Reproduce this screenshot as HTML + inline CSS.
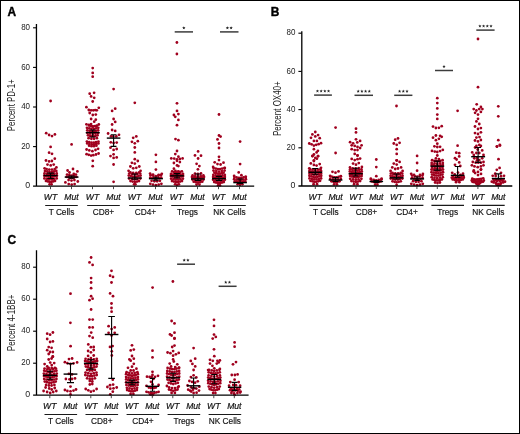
<!DOCTYPE html>
<html><head><meta charset="utf-8"><style>html,body{margin:0;padding:0;background:#fff;width:520px;height:434px;overflow:hidden}</style></head>
<body><svg width="520" height="434" viewBox="0 0 520 434" style="display:block;will-change:transform"><rect x="0" y="0" width="520" height="434" fill="#fff"/><rect x="0.5" y="0.5" width="519" height="433" fill="none" stroke="#000" stroke-width="1"/><text x="7.6" y="16.0" font-family='"Liberation Sans", sans-serif' font-weight="bold" font-size="11.9" fill="#000" stroke="#000" stroke-width="0.4">A</text><circle cx="50.6" cy="101.0" r="1.38" fill="#a0001e"/><circle cx="46.2" cy="133.2" r="1.38" fill="#a0001e"/><circle cx="49.1" cy="135.0" r="1.38" fill="#a0001e"/><circle cx="52.0" cy="136.1" r="1.38" fill="#a0001e"/><circle cx="54.9" cy="134.4" r="1.38" fill="#a0001e"/><circle cx="50.6" cy="146.9" r="1.38" fill="#a0001e"/><circle cx="49.1" cy="152.7" r="1.38" fill="#a0001e"/><circle cx="52.0" cy="153.8" r="1.38" fill="#a0001e"/><circle cx="54.8" cy="158.7" r="1.38" fill="#a0001e"/><circle cx="46.0" cy="160.5" r="1.38" fill="#a0001e"/><circle cx="49.1" cy="161.4" r="1.38" fill="#a0001e"/><circle cx="51.9" cy="161.0" r="1.38" fill="#a0001e"/><circle cx="47.5" cy="164.6" r="1.38" fill="#a0001e"/><circle cx="50.7" cy="165.4" r="1.38" fill="#a0001e"/><circle cx="53.7" cy="164.6" r="1.38" fill="#a0001e"/><circle cx="44.6" cy="168.3" r="1.38" fill="#a0001e"/><circle cx="56.4" cy="167.4" r="1.38" fill="#a0001e"/><circle cx="49.6" cy="184.3" r="1.38" fill="#a0001e"/><circle cx="51.6" cy="184.3" r="1.38" fill="#a0001e"/><circle cx="46.0" cy="180.9" r="1.38" fill="#a0001e"/><circle cx="47.8" cy="181.4" r="1.38" fill="#a0001e"/><circle cx="49.6" cy="181.9" r="1.38" fill="#a0001e"/><circle cx="51.4" cy="181.9" r="1.38" fill="#a0001e"/><circle cx="53.2" cy="181.4" r="1.38" fill="#a0001e"/><circle cx="55.0" cy="180.9" r="1.38" fill="#a0001e"/><circle cx="44.4" cy="178.4" r="1.38" fill="#a0001e"/><circle cx="46.8" cy="178.9" r="1.38" fill="#a0001e"/><circle cx="49.3" cy="179.4" r="1.38" fill="#a0001e"/><circle cx="51.7" cy="179.4" r="1.38" fill="#a0001e"/><circle cx="54.2" cy="178.9" r="1.38" fill="#a0001e"/><circle cx="56.7" cy="178.4" r="1.38" fill="#a0001e"/><circle cx="44.3" cy="175.7" r="1.38" fill="#a0001e"/><circle cx="46.4" cy="176.2" r="1.38" fill="#a0001e"/><circle cx="48.5" cy="176.7" r="1.38" fill="#a0001e"/><circle cx="50.6" cy="177.2" r="1.38" fill="#a0001e"/><circle cx="52.7" cy="176.7" r="1.38" fill="#a0001e"/><circle cx="54.8" cy="176.2" r="1.38" fill="#a0001e"/><circle cx="56.9" cy="175.7" r="1.38" fill="#a0001e"/><circle cx="44.5" cy="173.5" r="1.38" fill="#a0001e"/><circle cx="47.0" cy="174.0" r="1.38" fill="#a0001e"/><circle cx="49.4" cy="174.5" r="1.38" fill="#a0001e"/><circle cx="51.8" cy="174.5" r="1.38" fill="#a0001e"/><circle cx="54.2" cy="174.0" r="1.38" fill="#a0001e"/><circle cx="56.7" cy="173.5" r="1.38" fill="#a0001e"/><circle cx="45.0" cy="171.0" r="1.38" fill="#a0001e"/><circle cx="47.3" cy="171.5" r="1.38" fill="#a0001e"/><circle cx="49.5" cy="172.0" r="1.38" fill="#a0001e"/><circle cx="51.8" cy="172.0" r="1.38" fill="#a0001e"/><circle cx="54.0" cy="171.5" r="1.38" fill="#a0001e"/><circle cx="56.3" cy="171.0" r="1.38" fill="#a0001e"/><circle cx="46.6" cy="169.1" r="1.38" fill="#a0001e"/><circle cx="49.3" cy="169.6" r="1.38" fill="#a0001e"/><circle cx="52.0" cy="169.6" r="1.38" fill="#a0001e"/><circle cx="54.7" cy="169.1" r="1.38" fill="#a0001e"/><circle cx="71.6" cy="144.4" r="1.38" fill="#a0001e"/><circle cx="73.0" cy="169.0" r="1.38" fill="#a0001e"/><circle cx="67.6" cy="170.5" r="1.38" fill="#a0001e"/><circle cx="77.4" cy="171.4" r="1.38" fill="#a0001e"/><circle cx="69.5" cy="172.5" r="1.38" fill="#a0001e"/><circle cx="73.8" cy="174.0" r="1.38" fill="#a0001e"/><circle cx="65.4" cy="182.4" r="1.38" fill="#a0001e"/><circle cx="77.8" cy="181.5" r="1.38" fill="#a0001e"/><circle cx="68.6" cy="180.1" r="1.38" fill="#a0001e"/><circle cx="71.5" cy="180.6" r="1.38" fill="#a0001e"/><circle cx="74.4" cy="180.1" r="1.38" fill="#a0001e"/><circle cx="66.6" cy="176.8" r="1.38" fill="#a0001e"/><circle cx="68.6" cy="177.3" r="1.38" fill="#a0001e"/><circle cx="70.5" cy="177.8" r="1.38" fill="#a0001e"/><circle cx="72.5" cy="177.8" r="1.38" fill="#a0001e"/><circle cx="74.4" cy="177.3" r="1.38" fill="#a0001e"/><circle cx="76.4" cy="176.8" r="1.38" fill="#a0001e"/><circle cx="67.1" cy="174.6" r="1.38" fill="#a0001e"/><circle cx="69.3" cy="175.1" r="1.38" fill="#a0001e"/><circle cx="71.5" cy="175.6" r="1.38" fill="#a0001e"/><circle cx="73.7" cy="175.1" r="1.38" fill="#a0001e"/><circle cx="75.9" cy="174.6" r="1.38" fill="#a0001e"/><circle cx="68.7" cy="184.1" r="1.38" fill="#a0001e"/><circle cx="71.7" cy="184.6" r="1.38" fill="#a0001e"/><circle cx="74.6" cy="184.1" r="1.38" fill="#a0001e"/><circle cx="92.7" cy="68.1" r="1.38" fill="#a0001e"/><circle cx="92.7" cy="72.9" r="1.38" fill="#a0001e"/><circle cx="92.7" cy="76.7" r="1.38" fill="#a0001e"/><circle cx="89.7" cy="93.7" r="1.38" fill="#a0001e"/><circle cx="94.1" cy="92.8" r="1.38" fill="#a0001e"/><circle cx="91.1" cy="96.4" r="1.38" fill="#a0001e"/><circle cx="94.2" cy="97.8" r="1.38" fill="#a0001e"/><circle cx="92.7" cy="101.5" r="1.38" fill="#a0001e"/><circle cx="86.4" cy="107.2" r="1.38" fill="#a0001e"/><circle cx="98.8" cy="107.8" r="1.38" fill="#a0001e"/><circle cx="88.8" cy="110.0" r="1.38" fill="#a0001e"/><circle cx="91.1" cy="110.3" r="1.38" fill="#a0001e"/><circle cx="93.3" cy="110.3" r="1.38" fill="#a0001e"/><circle cx="95.2" cy="110.1" r="1.38" fill="#a0001e"/><circle cx="96.8" cy="110.3" r="1.38" fill="#a0001e"/><circle cx="89.7" cy="113.0" r="1.38" fill="#a0001e"/><circle cx="92.8" cy="115.0" r="1.38" fill="#a0001e"/><circle cx="95.8" cy="114.6" r="1.38" fill="#a0001e"/><circle cx="91.1" cy="119.0" r="1.38" fill="#a0001e"/><circle cx="95.8" cy="119.7" r="1.38" fill="#a0001e"/><circle cx="94.2" cy="121.7" r="1.38" fill="#a0001e"/><circle cx="86.4" cy="124.3" r="1.38" fill="#a0001e"/><circle cx="88.8" cy="124.8" r="1.38" fill="#a0001e"/><circle cx="91.1" cy="124.1" r="1.38" fill="#a0001e"/><circle cx="98.8" cy="124.5" r="1.38" fill="#a0001e"/><circle cx="96.4" cy="126.1" r="1.38" fill="#a0001e"/><circle cx="92.8" cy="126.5" r="1.38" fill="#a0001e"/><circle cx="86.6" cy="149.5" r="1.38" fill="#a0001e"/><circle cx="89.3" cy="150.4" r="1.38" fill="#a0001e"/><circle cx="92.4" cy="151.2" r="1.38" fill="#a0001e"/><circle cx="95.5" cy="150.0" r="1.38" fill="#a0001e"/><circle cx="98.1" cy="148.8" r="1.38" fill="#a0001e"/><circle cx="86.6" cy="154.2" r="1.38" fill="#a0001e"/><circle cx="88.8" cy="154.8" r="1.38" fill="#a0001e"/><circle cx="91.1" cy="155.6" r="1.38" fill="#a0001e"/><circle cx="93.3" cy="155.2" r="1.38" fill="#a0001e"/><circle cx="96.0" cy="154.5" r="1.38" fill="#a0001e"/><circle cx="98.6" cy="153.5" r="1.38" fill="#a0001e"/><circle cx="92.8" cy="160.8" r="1.38" fill="#a0001e"/><circle cx="92.7" cy="166.2" r="1.38" fill="#a0001e"/><circle cx="88.6" cy="138.2" r="1.38" fill="#a0001e"/><circle cx="91.4" cy="138.8" r="1.38" fill="#a0001e"/><circle cx="94.1" cy="138.8" r="1.38" fill="#a0001e"/><circle cx="96.9" cy="138.2" r="1.38" fill="#a0001e"/><circle cx="88.0" cy="135.3" r="1.38" fill="#a0001e"/><circle cx="89.9" cy="135.8" r="1.38" fill="#a0001e"/><circle cx="91.8" cy="136.3" r="1.38" fill="#a0001e"/><circle cx="93.7" cy="136.3" r="1.38" fill="#a0001e"/><circle cx="95.6" cy="135.8" r="1.38" fill="#a0001e"/><circle cx="97.5" cy="135.3" r="1.38" fill="#a0001e"/><circle cx="87.4" cy="133.0" r="1.38" fill="#a0001e"/><circle cx="90.0" cy="133.5" r="1.38" fill="#a0001e"/><circle cx="92.7" cy="134.0" r="1.38" fill="#a0001e"/><circle cx="95.4" cy="133.5" r="1.38" fill="#a0001e"/><circle cx="98.1" cy="133.0" r="1.38" fill="#a0001e"/><circle cx="87.3" cy="130.3" r="1.38" fill="#a0001e"/><circle cx="89.5" cy="130.8" r="1.38" fill="#a0001e"/><circle cx="91.6" cy="131.3" r="1.38" fill="#a0001e"/><circle cx="93.8" cy="131.3" r="1.38" fill="#a0001e"/><circle cx="95.9" cy="130.8" r="1.38" fill="#a0001e"/><circle cx="98.1" cy="130.3" r="1.38" fill="#a0001e"/><circle cx="87.0" cy="127.8" r="1.38" fill="#a0001e"/><circle cx="89.3" cy="128.3" r="1.38" fill="#a0001e"/><circle cx="91.5" cy="128.8" r="1.38" fill="#a0001e"/><circle cx="93.8" cy="128.8" r="1.38" fill="#a0001e"/><circle cx="96.1" cy="128.3" r="1.38" fill="#a0001e"/><circle cx="98.3" cy="127.8" r="1.38" fill="#a0001e"/><circle cx="89.1" cy="125.6" r="1.38" fill="#a0001e"/><circle cx="91.0" cy="126.1" r="1.38" fill="#a0001e"/><circle cx="93.0" cy="126.6" r="1.38" fill="#a0001e"/><circle cx="95.0" cy="126.1" r="1.38" fill="#a0001e"/><circle cx="96.9" cy="125.6" r="1.38" fill="#a0001e"/><circle cx="89.1" cy="145.7" r="1.38" fill="#a0001e"/><circle cx="91.5" cy="146.2" r="1.38" fill="#a0001e"/><circle cx="94.0" cy="146.2" r="1.38" fill="#a0001e"/><circle cx="96.4" cy="145.7" r="1.38" fill="#a0001e"/><circle cx="87.2" cy="143.4" r="1.38" fill="#a0001e"/><circle cx="89.4" cy="143.9" r="1.38" fill="#a0001e"/><circle cx="91.7" cy="144.4" r="1.38" fill="#a0001e"/><circle cx="93.9" cy="144.4" r="1.38" fill="#a0001e"/><circle cx="96.2" cy="143.9" r="1.38" fill="#a0001e"/><circle cx="98.4" cy="143.4" r="1.38" fill="#a0001e"/><circle cx="86.9" cy="141.6" r="1.38" fill="#a0001e"/><circle cx="89.2" cy="142.1" r="1.38" fill="#a0001e"/><circle cx="91.5" cy="142.6" r="1.38" fill="#a0001e"/><circle cx="93.8" cy="142.6" r="1.38" fill="#a0001e"/><circle cx="96.1" cy="142.1" r="1.38" fill="#a0001e"/><circle cx="98.4" cy="141.6" r="1.38" fill="#a0001e"/><circle cx="113.6" cy="89.1" r="1.38" fill="#a0001e"/><circle cx="115.2" cy="108.7" r="1.38" fill="#a0001e"/><circle cx="112.1" cy="110.9" r="1.38" fill="#a0001e"/><circle cx="113.6" cy="119.0" r="1.38" fill="#a0001e"/><circle cx="115.2" cy="121.9" r="1.38" fill="#a0001e"/><circle cx="112.1" cy="124.5" r="1.38" fill="#a0001e"/><circle cx="112.1" cy="130.0" r="1.38" fill="#a0001e"/><circle cx="115.2" cy="130.9" r="1.38" fill="#a0001e"/><circle cx="108.1" cy="133.5" r="1.38" fill="#a0001e"/><circle cx="119.0" cy="134.8" r="1.38" fill="#a0001e"/><circle cx="111.0" cy="136.4" r="1.38" fill="#a0001e"/><circle cx="113.2" cy="136.4" r="1.38" fill="#a0001e"/><circle cx="116.3" cy="136.4" r="1.38" fill="#a0001e"/><circle cx="110.8" cy="142.3" r="1.38" fill="#a0001e"/><circle cx="113.6" cy="143.0" r="1.38" fill="#a0001e"/><circle cx="116.7" cy="142.6" r="1.38" fill="#a0001e"/><circle cx="110.5" cy="147.7" r="1.38" fill="#a0001e"/><circle cx="113.6" cy="149.9" r="1.38" fill="#a0001e"/><circle cx="116.7" cy="149.0" r="1.38" fill="#a0001e"/><circle cx="113.6" cy="154.3" r="1.38" fill="#a0001e"/><circle cx="110.5" cy="156.1" r="1.38" fill="#a0001e"/><circle cx="113.6" cy="157.9" r="1.38" fill="#a0001e"/><circle cx="116.7" cy="157.4" r="1.38" fill="#a0001e"/><circle cx="113.6" cy="164.5" r="1.38" fill="#a0001e"/><circle cx="113.6" cy="181.8" r="1.38" fill="#a0001e"/><circle cx="134.8" cy="102.8" r="1.38" fill="#a0001e"/><circle cx="136.3" cy="136.4" r="1.38" fill="#a0001e"/><circle cx="133.2" cy="137.8" r="1.38" fill="#a0001e"/><circle cx="131.9" cy="141.8" r="1.38" fill="#a0001e"/><circle cx="134.8" cy="143.3" r="1.38" fill="#a0001e"/><circle cx="137.8" cy="141.2" r="1.38" fill="#a0001e"/><circle cx="134.8" cy="147.5" r="1.38" fill="#a0001e"/><circle cx="134.8" cy="152.4" r="1.38" fill="#a0001e"/><circle cx="134.8" cy="159.2" r="1.38" fill="#a0001e"/><circle cx="137.8" cy="161.0" r="1.38" fill="#a0001e"/><circle cx="131.9" cy="162.8" r="1.38" fill="#a0001e"/><circle cx="134.8" cy="163.6" r="1.38" fill="#a0001e"/><circle cx="130.4" cy="166.5" r="1.38" fill="#a0001e"/><circle cx="133.2" cy="168.3" r="1.38" fill="#a0001e"/><circle cx="136.3" cy="167.8" r="1.38" fill="#a0001e"/><circle cx="139.3" cy="166.5" r="1.38" fill="#a0001e"/><circle cx="128.6" cy="170.8" r="1.38" fill="#a0001e"/><circle cx="140.6" cy="170.8" r="1.38" fill="#a0001e"/><circle cx="130.4" cy="172.4" r="1.38" fill="#a0001e"/><circle cx="133.2" cy="173.0" r="1.38" fill="#a0001e"/><circle cx="136.3" cy="173.0" r="1.38" fill="#a0001e"/><circle cx="139.1" cy="172.4" r="1.38" fill="#a0001e"/><circle cx="134.1" cy="184.3" r="1.38" fill="#a0001e"/><circle cx="135.4" cy="184.3" r="1.38" fill="#a0001e"/><circle cx="130.5" cy="181.1" r="1.38" fill="#a0001e"/><circle cx="132.6" cy="181.6" r="1.38" fill="#a0001e"/><circle cx="134.8" cy="182.1" r="1.38" fill="#a0001e"/><circle cx="136.9" cy="181.6" r="1.38" fill="#a0001e"/><circle cx="139.0" cy="181.1" r="1.38" fill="#a0001e"/><circle cx="129.1" cy="178.6" r="1.38" fill="#a0001e"/><circle cx="131.9" cy="179.1" r="1.38" fill="#a0001e"/><circle cx="134.7" cy="179.6" r="1.38" fill="#a0001e"/><circle cx="137.5" cy="179.1" r="1.38" fill="#a0001e"/><circle cx="140.3" cy="178.6" r="1.38" fill="#a0001e"/><circle cx="128.8" cy="175.6" r="1.38" fill="#a0001e"/><circle cx="130.8" cy="176.1" r="1.38" fill="#a0001e"/><circle cx="132.7" cy="176.6" r="1.38" fill="#a0001e"/><circle cx="134.7" cy="177.1" r="1.38" fill="#a0001e"/><circle cx="136.7" cy="176.6" r="1.38" fill="#a0001e"/><circle cx="138.6" cy="176.1" r="1.38" fill="#a0001e"/><circle cx="140.6" cy="175.6" r="1.38" fill="#a0001e"/><circle cx="129.2" cy="173.6" r="1.38" fill="#a0001e"/><circle cx="131.9" cy="174.1" r="1.38" fill="#a0001e"/><circle cx="134.7" cy="174.6" r="1.38" fill="#a0001e"/><circle cx="137.4" cy="174.1" r="1.38" fill="#a0001e"/><circle cx="140.2" cy="173.6" r="1.38" fill="#a0001e"/><circle cx="155.9" cy="154.8" r="1.38" fill="#a0001e"/><circle cx="155.9" cy="161.9" r="1.38" fill="#a0001e"/><circle cx="155.9" cy="169.6" r="1.38" fill="#a0001e"/><circle cx="150.1" cy="173.6" r="1.38" fill="#a0001e"/><circle cx="153.0" cy="174.6" r="1.38" fill="#a0001e"/><circle cx="158.7" cy="174.9" r="1.38" fill="#a0001e"/><circle cx="161.8" cy="173.8" r="1.38" fill="#a0001e"/><circle cx="150.3" cy="183.8" r="1.38" fill="#a0001e"/><circle cx="153.0" cy="184.6" r="1.38" fill="#a0001e"/><circle cx="155.9" cy="185.2" r="1.38" fill="#a0001e"/><circle cx="158.7" cy="184.6" r="1.38" fill="#a0001e"/><circle cx="161.4" cy="183.8" r="1.38" fill="#a0001e"/><circle cx="151.6" cy="180.8" r="1.38" fill="#a0001e"/><circle cx="154.4" cy="181.3" r="1.38" fill="#a0001e"/><circle cx="157.1" cy="181.3" r="1.38" fill="#a0001e"/><circle cx="159.9" cy="180.8" r="1.38" fill="#a0001e"/><circle cx="150.3" cy="177.6" r="1.38" fill="#a0001e"/><circle cx="152.5" cy="178.1" r="1.38" fill="#a0001e"/><circle cx="154.7" cy="178.6" r="1.38" fill="#a0001e"/><circle cx="156.8" cy="178.6" r="1.38" fill="#a0001e"/><circle cx="159.0" cy="178.1" r="1.38" fill="#a0001e"/><circle cx="161.2" cy="177.6" r="1.38" fill="#a0001e"/><circle cx="150.6" cy="175.2" r="1.38" fill="#a0001e"/><circle cx="153.2" cy="175.7" r="1.38" fill="#a0001e"/><circle cx="155.8" cy="176.2" r="1.38" fill="#a0001e"/><circle cx="158.3" cy="175.7" r="1.38" fill="#a0001e"/><circle cx="160.9" cy="175.2" r="1.38" fill="#a0001e"/><circle cx="176.9" cy="42.5" r="1.38" fill="#a0001e"/><circle cx="176.9" cy="54.0" r="1.38" fill="#a0001e"/><circle cx="177.0" cy="103.3" r="1.38" fill="#a0001e"/><circle cx="177.0" cy="110.9" r="1.38" fill="#a0001e"/><circle cx="178.4" cy="114.1" r="1.38" fill="#a0001e"/><circle cx="173.9" cy="115.0" r="1.38" fill="#a0001e"/><circle cx="175.3" cy="116.8" r="1.38" fill="#a0001e"/><circle cx="178.4" cy="119.9" r="1.38" fill="#a0001e"/><circle cx="177.0" cy="125.2" r="1.38" fill="#a0001e"/><circle cx="175.5" cy="139.1" r="1.38" fill="#a0001e"/><circle cx="178.4" cy="140.2" r="1.38" fill="#a0001e"/><circle cx="177.0" cy="151.0" r="1.38" fill="#a0001e"/><circle cx="175.3" cy="154.1" r="1.38" fill="#a0001e"/><circle cx="178.4" cy="156.7" r="1.38" fill="#a0001e"/><circle cx="171.3" cy="158.4" r="1.38" fill="#a0001e"/><circle cx="174.2" cy="158.6" r="1.38" fill="#a0001e"/><circle cx="177.0" cy="159.3" r="1.38" fill="#a0001e"/><circle cx="179.9" cy="159.0" r="1.38" fill="#a0001e"/><circle cx="182.6" cy="158.4" r="1.38" fill="#a0001e"/><circle cx="177.0" cy="160.8" r="1.38" fill="#a0001e"/><circle cx="179.9" cy="162.1" r="1.38" fill="#a0001e"/><circle cx="173.9" cy="163.0" r="1.38" fill="#a0001e"/><circle cx="177.0" cy="165.4" r="1.38" fill="#a0001e"/><circle cx="178.4" cy="166.1" r="1.38" fill="#a0001e"/><circle cx="173.9" cy="168.7" r="1.38" fill="#a0001e"/><circle cx="175.5" cy="171.0" r="1.38" fill="#a0001e"/><circle cx="178.2" cy="171.4" r="1.38" fill="#a0001e"/><circle cx="175.1" cy="184.3" r="1.38" fill="#a0001e"/><circle cx="177.0" cy="184.8" r="1.38" fill="#a0001e"/><circle cx="178.9" cy="184.3" r="1.38" fill="#a0001e"/><circle cx="172.0" cy="181.1" r="1.38" fill="#a0001e"/><circle cx="174.0" cy="181.6" r="1.38" fill="#a0001e"/><circle cx="176.0" cy="182.1" r="1.38" fill="#a0001e"/><circle cx="178.0" cy="182.1" r="1.38" fill="#a0001e"/><circle cx="180.0" cy="181.6" r="1.38" fill="#a0001e"/><circle cx="182.0" cy="181.1" r="1.38" fill="#a0001e"/><circle cx="171.1" cy="178.7" r="1.38" fill="#a0001e"/><circle cx="173.5" cy="179.2" r="1.38" fill="#a0001e"/><circle cx="175.8" cy="179.7" r="1.38" fill="#a0001e"/><circle cx="178.2" cy="179.7" r="1.38" fill="#a0001e"/><circle cx="180.5" cy="179.2" r="1.38" fill="#a0001e"/><circle cx="182.9" cy="178.7" r="1.38" fill="#a0001e"/><circle cx="170.9" cy="176.0" r="1.38" fill="#a0001e"/><circle cx="172.9" cy="176.5" r="1.38" fill="#a0001e"/><circle cx="175.0" cy="177.0" r="1.38" fill="#a0001e"/><circle cx="177.0" cy="177.5" r="1.38" fill="#a0001e"/><circle cx="179.0" cy="177.0" r="1.38" fill="#a0001e"/><circle cx="181.1" cy="176.5" r="1.38" fill="#a0001e"/><circle cx="183.1" cy="176.0" r="1.38" fill="#a0001e"/><circle cx="171.0" cy="173.9" r="1.38" fill="#a0001e"/><circle cx="173.4" cy="174.4" r="1.38" fill="#a0001e"/><circle cx="175.8" cy="174.9" r="1.38" fill="#a0001e"/><circle cx="178.2" cy="174.9" r="1.38" fill="#a0001e"/><circle cx="180.6" cy="174.4" r="1.38" fill="#a0001e"/><circle cx="183.0" cy="173.9" r="1.38" fill="#a0001e"/><circle cx="172.1" cy="171.4" r="1.38" fill="#a0001e"/><circle cx="174.1" cy="171.9" r="1.38" fill="#a0001e"/><circle cx="176.0" cy="172.4" r="1.38" fill="#a0001e"/><circle cx="178.0" cy="172.4" r="1.38" fill="#a0001e"/><circle cx="179.9" cy="171.9" r="1.38" fill="#a0001e"/><circle cx="181.9" cy="171.4" r="1.38" fill="#a0001e"/><circle cx="198.1" cy="151.4" r="1.38" fill="#a0001e"/><circle cx="195.0" cy="155.4" r="1.38" fill="#a0001e"/><circle cx="201.0" cy="155.7" r="1.38" fill="#a0001e"/><circle cx="198.1" cy="158.5" r="1.38" fill="#a0001e"/><circle cx="196.6" cy="163.8" r="1.38" fill="#a0001e"/><circle cx="199.4" cy="166.1" r="1.38" fill="#a0001e"/><circle cx="197.9" cy="169.3" r="1.38" fill="#a0001e"/><circle cx="195.0" cy="173.6" r="1.38" fill="#a0001e"/><circle cx="197.9" cy="174.0" r="1.38" fill="#a0001e"/><circle cx="201.0" cy="173.4" r="1.38" fill="#a0001e"/><circle cx="196.6" cy="184.6" r="1.38" fill="#a0001e"/><circle cx="199.4" cy="184.6" r="1.38" fill="#a0001e"/><circle cx="193.7" cy="181.7" r="1.38" fill="#a0001e"/><circle cx="195.8" cy="182.2" r="1.38" fill="#a0001e"/><circle cx="198.0" cy="182.7" r="1.38" fill="#a0001e"/><circle cx="200.2" cy="182.2" r="1.38" fill="#a0001e"/><circle cx="202.3" cy="181.7" r="1.38" fill="#a0001e"/><circle cx="192.5" cy="179.6" r="1.38" fill="#a0001e"/><circle cx="195.2" cy="180.1" r="1.38" fill="#a0001e"/><circle cx="198.0" cy="180.6" r="1.38" fill="#a0001e"/><circle cx="200.8" cy="180.1" r="1.38" fill="#a0001e"/><circle cx="203.5" cy="179.6" r="1.38" fill="#a0001e"/><circle cx="192.0" cy="177.0" r="1.38" fill="#a0001e"/><circle cx="194.0" cy="177.5" r="1.38" fill="#a0001e"/><circle cx="196.0" cy="178.0" r="1.38" fill="#a0001e"/><circle cx="198.0" cy="178.5" r="1.38" fill="#a0001e"/><circle cx="200.0" cy="178.0" r="1.38" fill="#a0001e"/><circle cx="202.0" cy="177.5" r="1.38" fill="#a0001e"/><circle cx="204.0" cy="177.0" r="1.38" fill="#a0001e"/><circle cx="192.6" cy="175.4" r="1.38" fill="#a0001e"/><circle cx="195.3" cy="175.9" r="1.38" fill="#a0001e"/><circle cx="198.0" cy="176.4" r="1.38" fill="#a0001e"/><circle cx="200.7" cy="175.9" r="1.38" fill="#a0001e"/><circle cx="203.4" cy="175.4" r="1.38" fill="#a0001e"/><circle cx="219.0" cy="114.5" r="1.38" fill="#a0001e"/><circle cx="219.0" cy="135.5" r="1.38" fill="#a0001e"/><circle cx="220.6" cy="136.6" r="1.38" fill="#a0001e"/><circle cx="217.5" cy="139.4" r="1.38" fill="#a0001e"/><circle cx="219.0" cy="143.5" r="1.38" fill="#a0001e"/><circle cx="219.0" cy="148.0" r="1.38" fill="#a0001e"/><circle cx="219.0" cy="156.8" r="1.38" fill="#a0001e"/><circle cx="219.0" cy="160.1" r="1.38" fill="#a0001e"/><circle cx="214.7" cy="162.3" r="1.38" fill="#a0001e"/><circle cx="217.5" cy="164.1" r="1.38" fill="#a0001e"/><circle cx="220.6" cy="164.5" r="1.38" fill="#a0001e"/><circle cx="223.5" cy="162.7" r="1.38" fill="#a0001e"/><circle cx="213.1" cy="167.0" r="1.38" fill="#a0001e"/><circle cx="224.8" cy="167.9" r="1.38" fill="#a0001e"/><circle cx="218.1" cy="185.3" r="1.38" fill="#a0001e"/><circle cx="219.9" cy="185.3" r="1.38" fill="#a0001e"/><circle cx="214.2" cy="182.0" r="1.38" fill="#a0001e"/><circle cx="216.1" cy="182.5" r="1.38" fill="#a0001e"/><circle cx="218.0" cy="183.0" r="1.38" fill="#a0001e"/><circle cx="220.0" cy="183.0" r="1.38" fill="#a0001e"/><circle cx="221.9" cy="182.5" r="1.38" fill="#a0001e"/><circle cx="223.8" cy="182.0" r="1.38" fill="#a0001e"/><circle cx="213.1" cy="179.7" r="1.38" fill="#a0001e"/><circle cx="215.5" cy="180.2" r="1.38" fill="#a0001e"/><circle cx="217.8" cy="180.7" r="1.38" fill="#a0001e"/><circle cx="220.2" cy="180.7" r="1.38" fill="#a0001e"/><circle cx="222.5" cy="180.2" r="1.38" fill="#a0001e"/><circle cx="224.9" cy="179.7" r="1.38" fill="#a0001e"/><circle cx="213.1" cy="177.1" r="1.38" fill="#a0001e"/><circle cx="215.1" cy="177.6" r="1.38" fill="#a0001e"/><circle cx="217.0" cy="178.1" r="1.38" fill="#a0001e"/><circle cx="219.0" cy="178.6" r="1.38" fill="#a0001e"/><circle cx="221.0" cy="178.1" r="1.38" fill="#a0001e"/><circle cx="222.9" cy="177.6" r="1.38" fill="#a0001e"/><circle cx="224.9" cy="177.1" r="1.38" fill="#a0001e"/><circle cx="213.3" cy="175.0" r="1.38" fill="#a0001e"/><circle cx="215.6" cy="175.5" r="1.38" fill="#a0001e"/><circle cx="217.9" cy="176.0" r="1.38" fill="#a0001e"/><circle cx="220.2" cy="176.0" r="1.38" fill="#a0001e"/><circle cx="222.5" cy="175.5" r="1.38" fill="#a0001e"/><circle cx="224.8" cy="175.0" r="1.38" fill="#a0001e"/><circle cx="214.4" cy="172.7" r="1.38" fill="#a0001e"/><circle cx="216.2" cy="173.2" r="1.38" fill="#a0001e"/><circle cx="218.1" cy="173.7" r="1.38" fill="#a0001e"/><circle cx="219.9" cy="173.7" r="1.38" fill="#a0001e"/><circle cx="221.8" cy="173.2" r="1.38" fill="#a0001e"/><circle cx="223.6" cy="172.7" r="1.38" fill="#a0001e"/><circle cx="213.5" cy="170.6" r="1.38" fill="#a0001e"/><circle cx="216.3" cy="171.1" r="1.38" fill="#a0001e"/><circle cx="219.0" cy="171.6" r="1.38" fill="#a0001e"/><circle cx="221.8" cy="171.1" r="1.38" fill="#a0001e"/><circle cx="224.6" cy="170.6" r="1.38" fill="#a0001e"/><circle cx="213.6" cy="168.1" r="1.38" fill="#a0001e"/><circle cx="215.8" cy="168.6" r="1.38" fill="#a0001e"/><circle cx="217.9" cy="169.1" r="1.38" fill="#a0001e"/><circle cx="220.1" cy="169.1" r="1.38" fill="#a0001e"/><circle cx="222.2" cy="168.6" r="1.38" fill="#a0001e"/><circle cx="224.4" cy="168.1" r="1.38" fill="#a0001e"/><circle cx="240.1" cy="141.6" r="1.38" fill="#a0001e"/><circle cx="240.1" cy="164.1" r="1.38" fill="#a0001e"/><circle cx="238.7" cy="172.4" r="1.38" fill="#a0001e"/><circle cx="241.4" cy="175.2" r="1.38" fill="#a0001e"/><circle cx="234.1" cy="175.9" r="1.38" fill="#a0001e"/><circle cx="245.8" cy="176.8" r="1.38" fill="#a0001e"/><circle cx="237.6" cy="184.3" r="1.38" fill="#a0001e"/><circle cx="240.0" cy="184.8" r="1.38" fill="#a0001e"/><circle cx="242.4" cy="184.3" r="1.38" fill="#a0001e"/><circle cx="234.8" cy="181.3" r="1.38" fill="#a0001e"/><circle cx="236.9" cy="181.8" r="1.38" fill="#a0001e"/><circle cx="239.0" cy="182.3" r="1.38" fill="#a0001e"/><circle cx="241.0" cy="182.3" r="1.38" fill="#a0001e"/><circle cx="243.1" cy="181.8" r="1.38" fill="#a0001e"/><circle cx="245.2" cy="181.3" r="1.38" fill="#a0001e"/><circle cx="234.1" cy="179.2" r="1.38" fill="#a0001e"/><circle cx="236.5" cy="179.7" r="1.38" fill="#a0001e"/><circle cx="238.8" cy="180.2" r="1.38" fill="#a0001e"/><circle cx="241.2" cy="180.2" r="1.38" fill="#a0001e"/><circle cx="243.5" cy="179.7" r="1.38" fill="#a0001e"/><circle cx="245.9" cy="179.2" r="1.38" fill="#a0001e"/><circle cx="234.4" cy="176.9" r="1.38" fill="#a0001e"/><circle cx="236.6" cy="177.4" r="1.38" fill="#a0001e"/><circle cx="238.9" cy="177.9" r="1.38" fill="#a0001e"/><circle cx="241.1" cy="177.9" r="1.38" fill="#a0001e"/><circle cx="243.4" cy="177.4" r="1.38" fill="#a0001e"/><circle cx="245.6" cy="176.9" r="1.38" fill="#a0001e"/><path d="M36.45 24.0 V186.2 M33.050000000000004 186.2 H254.2" stroke="#000" stroke-width="1.3" fill="none"/><path d="M33.050000000000004 146.6 H36.45" stroke="#000" stroke-width="1.1"/><path d="M33.050000000000004 107.0 H36.45" stroke="#000" stroke-width="1.1"/><path d="M33.050000000000004 67.4 H36.45" stroke="#000" stroke-width="1.1"/><path d="M33.050000000000004 27.8 H36.45" stroke="#000" stroke-width="1.1"/><text x="30.050000000000004" y="188.4" text-anchor="end" font-family='"Liberation Sans", sans-serif' font-size="8.8" fill="#222">0</text><text x="30.050000000000004" y="148.8" text-anchor="end" font-family='"Liberation Sans", sans-serif' font-size="8.8" fill="#222" textLength="8.9" lengthAdjust="spacingAndGlyphs">20</text><text x="30.050000000000004" y="109.2" text-anchor="end" font-family='"Liberation Sans", sans-serif' font-size="8.8" fill="#222" textLength="8.9" lengthAdjust="spacingAndGlyphs">40</text><text x="30.050000000000004" y="69.6" text-anchor="end" font-family='"Liberation Sans", sans-serif' font-size="8.8" fill="#222" textLength="8.9" lengthAdjust="spacingAndGlyphs">60</text><text x="30.050000000000004" y="30.0" text-anchor="end" font-family='"Liberation Sans", sans-serif' font-size="8.8" fill="#222" textLength="8.9" lengthAdjust="spacingAndGlyphs">80</text><path d="M50.5 186.2 V189.2" stroke="#333" stroke-width="0.9"/><text x="50.5" y="199.6" text-anchor="middle" font-family='"Liberation Sans", sans-serif' font-style="italic" font-size="8.6" fill="#111" stroke="#111" stroke-width="0.2">WT</text><path d="M71.5 186.2 V189.2" stroke="#333" stroke-width="0.9"/><text x="71.5" y="199.6" text-anchor="middle" font-family='"Liberation Sans", sans-serif' font-style="italic" font-size="8.6" fill="#111" stroke="#111" stroke-width="0.2">Mut</text><path d="M92.5 186.2 V189.2" stroke="#333" stroke-width="0.9"/><text x="92.5" y="199.6" text-anchor="middle" font-family='"Liberation Sans", sans-serif' font-style="italic" font-size="8.6" fill="#111" stroke="#111" stroke-width="0.2">WT</text><path d="M113.5 186.2 V189.2" stroke="#333" stroke-width="0.9"/><text x="113.5" y="199.6" text-anchor="middle" font-family='"Liberation Sans", sans-serif' font-style="italic" font-size="8.6" fill="#111" stroke="#111" stroke-width="0.2">Mut</text><path d="M134.5 186.2 V189.2" stroke="#333" stroke-width="0.9"/><text x="134.5" y="199.6" text-anchor="middle" font-family='"Liberation Sans", sans-serif' font-style="italic" font-size="8.6" fill="#111" stroke="#111" stroke-width="0.2">WT</text><path d="M155.5 186.2 V189.2" stroke="#333" stroke-width="0.9"/><text x="155.5" y="199.6" text-anchor="middle" font-family='"Liberation Sans", sans-serif' font-style="italic" font-size="8.6" fill="#111" stroke="#111" stroke-width="0.2">Mut</text><path d="M176.5 186.2 V189.2" stroke="#333" stroke-width="0.9"/><text x="176.5" y="199.6" text-anchor="middle" font-family='"Liberation Sans", sans-serif' font-style="italic" font-size="8.6" fill="#111" stroke="#111" stroke-width="0.2">WT</text><path d="M197.5 186.2 V189.2" stroke="#333" stroke-width="0.9"/><text x="197.5" y="199.6" text-anchor="middle" font-family='"Liberation Sans", sans-serif' font-style="italic" font-size="8.6" fill="#111" stroke="#111" stroke-width="0.2">Mut</text><path d="M218.5 186.2 V189.2" stroke="#333" stroke-width="0.9"/><text x="218.5" y="199.6" text-anchor="middle" font-family='"Liberation Sans", sans-serif' font-style="italic" font-size="8.6" fill="#111" stroke="#111" stroke-width="0.2">WT</text><path d="M239.5 186.2 V189.2" stroke="#333" stroke-width="0.9"/><text x="239.5" y="199.6" text-anchor="middle" font-family='"Liberation Sans", sans-serif' font-style="italic" font-size="8.6" fill="#111" stroke="#111" stroke-width="0.2">Mut</text><path d="M45.2 205.5 H77.8" stroke="#1a1a1a" stroke-width="1.2"/><text x="61.5" y="215.0" text-anchor="middle" font-family='"Liberation Sans", sans-serif' font-size="8.3" fill="#111" stroke="#111" stroke-width="0.15">T Cells</text><path d="M87.2 205.5 H119.8" stroke="#1a1a1a" stroke-width="1.2"/><text x="103.5" y="215.0" text-anchor="middle" font-family='"Liberation Sans", sans-serif' font-size="8.3" fill="#111" stroke="#111" stroke-width="0.15">CD8+</text><path d="M129.2 205.5 H161.8" stroke="#1a1a1a" stroke-width="1.2"/><text x="145.5" y="215.0" text-anchor="middle" font-family='"Liberation Sans", sans-serif' font-size="8.3" fill="#111" stroke="#111" stroke-width="0.15">CD4+</text><path d="M171.2 205.5 H203.8" stroke="#1a1a1a" stroke-width="1.2"/><text x="187.5" y="215.0" text-anchor="middle" font-family='"Liberation Sans", sans-serif' font-size="8.3" fill="#111" stroke="#111" stroke-width="0.15">Tregs</text><path d="M213.2 205.5 H245.8" stroke="#1a1a1a" stroke-width="1.2"/><text x="229.5" y="215.0" text-anchor="middle" font-family='"Liberation Sans", sans-serif' font-size="8.3" fill="#111" stroke="#111" stroke-width="0.15">NK Cells</text><text transform="translate(15.4,105.3) rotate(-90)" text-anchor="middle" font-family='"Liberation Sans", sans-serif' font-size="10" fill="#222" textLength="51.9" lengthAdjust="spacingAndGlyphs">Percent PD-1+</text><path d="M43.7 175.5 H57.5" stroke="#000" stroke-width="1.4" fill="none"/><path d="M50.6 173.1 V178.5 M47.3 173.1 H53.9 M47.3 178.5 H53.9" stroke="#000" stroke-width="1.1" fill="none"/><path d="M64.7 177.1 H78.5" stroke="#000" stroke-width="1.4" fill="none"/><path d="M71.6 176.0 V178.3 M68.6 176.0 H74.6 M68.6 178.3 H74.6" stroke="#000" stroke-width="1.1" fill="none"/><path d="M85.7 132.6 H99.7" stroke="#000" stroke-width="1.4" fill="none"/><path d="M92.7 130.0 V137.0 M89.8 130.0 H95.6 M89.8 137.0 H95.6" stroke="#000" stroke-width="1.1" fill="none"/><path d="M106.8 138.1 H120.4" stroke="#000" stroke-width="1.4" fill="none"/><path d="M113.6 134.8 V146.4 M110.7 134.8 H116.5 M110.7 146.4 H116.5" stroke="#000" stroke-width="1.1" fill="none"/><path d="M127.8 178.0 H141.8" stroke="#000" stroke-width="1.4" fill="none"/><path d="M134.8 174.0 V179.3 M131.8 174.0 H137.8 M131.8 179.3 H137.8" stroke="#000" stroke-width="1.1" fill="none"/><path d="M148.9 178.7 H162.9" stroke="#000" stroke-width="1.4" fill="none"/><path d="M155.9 177.3 V180.3 M153.1 177.3 H158.7 M153.1 180.3 H158.7" stroke="#000" stroke-width="1.1" fill="none"/><path d="M170.2 175.8 H183.8" stroke="#000" stroke-width="1.4" fill="none"/><path d="M177.0 173.6 V178.0 M174.0 173.6 H180.0 M174.0 178.0 H180.0" stroke="#000" stroke-width="1.1" fill="none"/><path d="M191.0 178.9 H204.8" stroke="#000" stroke-width="1.4" fill="none"/><path d="M197.9 174.0 V180.5 M194.9 174.0 H200.9 M194.9 180.5 H200.9" stroke="#000" stroke-width="1.1" fill="none"/><path d="M212.1 178.6 H225.9" stroke="#000" stroke-width="1.4" fill="none"/><path d="M219.0 176.4 V180.4 M216.0 176.4 H222.0 M216.0 180.4 H222.0" stroke="#000" stroke-width="1.1" fill="none"/><path d="M233.3 182.6 H246.9" stroke="#000" stroke-width="1.4" fill="none"/><path d="M240.1 179.0 V183.5 M237.1 179.0 H243.1 M237.1 183.5 H243.1" stroke="#000" stroke-width="1.1" fill="none"/><text x="270.8" y="15.6" font-family='"Liberation Sans", sans-serif' font-weight="bold" font-size="11.9" fill="#000" stroke="#000" stroke-width="0.4">B</text><circle cx="315.3" cy="132.0" r="1.38" fill="#a0001e"/><circle cx="312.4" cy="134.4" r="1.38" fill="#a0001e"/><circle cx="318.1" cy="135.1" r="1.38" fill="#a0001e"/><circle cx="315.3" cy="136.4" r="1.38" fill="#a0001e"/><circle cx="311.0" cy="137.8" r="1.38" fill="#a0001e"/><circle cx="319.7" cy="138.2" r="1.38" fill="#a0001e"/><circle cx="313.9" cy="140.9" r="1.38" fill="#a0001e"/><circle cx="316.9" cy="140.9" r="1.38" fill="#a0001e"/><circle cx="309.3" cy="143.5" r="1.38" fill="#a0001e"/><circle cx="311.6" cy="144.3" r="1.38" fill="#a0001e"/><circle cx="313.9" cy="145.6" r="1.38" fill="#a0001e"/><circle cx="316.2" cy="144.8" r="1.38" fill="#a0001e"/><circle cx="318.6" cy="144.2" r="1.38" fill="#a0001e"/><circle cx="321.0" cy="143.2" r="1.38" fill="#a0001e"/><circle cx="313.9" cy="149.2" r="1.38" fill="#a0001e"/><circle cx="317.9" cy="150.8" r="1.38" fill="#a0001e"/><circle cx="316.6" cy="152.4" r="1.38" fill="#a0001e"/><circle cx="313.9" cy="154.5" r="1.38" fill="#a0001e"/><circle cx="312.4" cy="156.1" r="1.38" fill="#a0001e"/><circle cx="318.1" cy="156.1" r="1.38" fill="#a0001e"/><circle cx="315.3" cy="157.9" r="1.38" fill="#a0001e"/><circle cx="316.9" cy="158.7" r="1.38" fill="#a0001e"/><circle cx="313.9" cy="160.5" r="1.38" fill="#a0001e"/><circle cx="312.5" cy="156.0" r="1.38" fill="#a0001e"/><circle cx="318.0" cy="156.2" r="1.38" fill="#a0001e"/><circle cx="313.9" cy="161.0" r="1.38" fill="#a0001e"/><circle cx="310.8" cy="163.4" r="1.38" fill="#a0001e"/><circle cx="313.9" cy="164.9" r="1.38" fill="#a0001e"/><circle cx="316.6" cy="165.6" r="1.38" fill="#a0001e"/><circle cx="319.7" cy="164.1" r="1.38" fill="#a0001e"/><circle cx="309.3" cy="168.3" r="1.38" fill="#a0001e"/><circle cx="321.0" cy="167.8" r="1.38" fill="#a0001e"/><circle cx="313.6" cy="184.2" r="1.38" fill="#a0001e"/><circle cx="317.0" cy="184.2" r="1.38" fill="#a0001e"/><circle cx="310.4" cy="180.8" r="1.38" fill="#a0001e"/><circle cx="312.4" cy="181.3" r="1.38" fill="#a0001e"/><circle cx="314.3" cy="181.8" r="1.38" fill="#a0001e"/><circle cx="316.2" cy="181.8" r="1.38" fill="#a0001e"/><circle cx="318.2" cy="181.3" r="1.38" fill="#a0001e"/><circle cx="320.1" cy="180.8" r="1.38" fill="#a0001e"/><circle cx="309.5" cy="178.4" r="1.38" fill="#a0001e"/><circle cx="311.8" cy="178.9" r="1.38" fill="#a0001e"/><circle cx="314.1" cy="179.4" r="1.38" fill="#a0001e"/><circle cx="316.5" cy="179.4" r="1.38" fill="#a0001e"/><circle cx="318.8" cy="178.9" r="1.38" fill="#a0001e"/><circle cx="321.1" cy="178.4" r="1.38" fill="#a0001e"/><circle cx="309.4" cy="175.8" r="1.38" fill="#a0001e"/><circle cx="311.4" cy="176.3" r="1.38" fill="#a0001e"/><circle cx="313.3" cy="176.8" r="1.38" fill="#a0001e"/><circle cx="315.3" cy="177.3" r="1.38" fill="#a0001e"/><circle cx="317.3" cy="176.8" r="1.38" fill="#a0001e"/><circle cx="319.2" cy="176.3" r="1.38" fill="#a0001e"/><circle cx="321.2" cy="175.8" r="1.38" fill="#a0001e"/><circle cx="309.5" cy="173.7" r="1.38" fill="#a0001e"/><circle cx="311.8" cy="174.2" r="1.38" fill="#a0001e"/><circle cx="314.1" cy="174.7" r="1.38" fill="#a0001e"/><circle cx="316.4" cy="174.7" r="1.38" fill="#a0001e"/><circle cx="318.7" cy="174.2" r="1.38" fill="#a0001e"/><circle cx="321.1" cy="173.7" r="1.38" fill="#a0001e"/><circle cx="309.4" cy="171.1" r="1.38" fill="#a0001e"/><circle cx="311.3" cy="171.6" r="1.38" fill="#a0001e"/><circle cx="313.3" cy="172.1" r="1.38" fill="#a0001e"/><circle cx="315.2" cy="172.6" r="1.38" fill="#a0001e"/><circle cx="317.2" cy="172.1" r="1.38" fill="#a0001e"/><circle cx="319.2" cy="171.6" r="1.38" fill="#a0001e"/><circle cx="321.1" cy="171.1" r="1.38" fill="#a0001e"/><circle cx="310.1" cy="169.2" r="1.38" fill="#a0001e"/><circle cx="312.7" cy="169.7" r="1.38" fill="#a0001e"/><circle cx="315.2" cy="170.2" r="1.38" fill="#a0001e"/><circle cx="317.8" cy="169.7" r="1.38" fill="#a0001e"/><circle cx="320.4" cy="169.2" r="1.38" fill="#a0001e"/><circle cx="335.6" cy="127.6" r="1.38" fill="#a0001e"/><circle cx="335.6" cy="153.0" r="1.38" fill="#a0001e"/><circle cx="332.5" cy="171.8" r="1.38" fill="#a0001e"/><circle cx="335.5" cy="172.7" r="1.38" fill="#a0001e"/><circle cx="338.5" cy="171.4" r="1.38" fill="#a0001e"/><circle cx="330.1" cy="175.8" r="1.38" fill="#a0001e"/><circle cx="340.9" cy="176.2" r="1.38" fill="#a0001e"/><circle cx="334.1" cy="184.3" r="1.38" fill="#a0001e"/><circle cx="336.9" cy="184.3" r="1.38" fill="#a0001e"/><circle cx="331.4" cy="181.3" r="1.38" fill="#a0001e"/><circle cx="333.5" cy="181.8" r="1.38" fill="#a0001e"/><circle cx="335.5" cy="182.3" r="1.38" fill="#a0001e"/><circle cx="337.5" cy="181.8" r="1.38" fill="#a0001e"/><circle cx="339.6" cy="181.3" r="1.38" fill="#a0001e"/><circle cx="330.2" cy="178.9" r="1.38" fill="#a0001e"/><circle cx="332.8" cy="179.4" r="1.38" fill="#a0001e"/><circle cx="335.5" cy="179.9" r="1.38" fill="#a0001e"/><circle cx="338.2" cy="179.4" r="1.38" fill="#a0001e"/><circle cx="340.8" cy="178.9" r="1.38" fill="#a0001e"/><circle cx="330.4" cy="176.3" r="1.38" fill="#a0001e"/><circle cx="332.4" cy="176.8" r="1.38" fill="#a0001e"/><circle cx="334.5" cy="177.3" r="1.38" fill="#a0001e"/><circle cx="336.5" cy="177.3" r="1.38" fill="#a0001e"/><circle cx="338.6" cy="176.8" r="1.38" fill="#a0001e"/><circle cx="340.6" cy="176.3" r="1.38" fill="#a0001e"/><circle cx="356.0" cy="128.7" r="1.38" fill="#a0001e"/><circle cx="356.0" cy="132.4" r="1.38" fill="#a0001e"/><circle cx="356.0" cy="139.3" r="1.38" fill="#a0001e"/><circle cx="360.1" cy="140.9" r="1.38" fill="#a0001e"/><circle cx="350.1" cy="142.2" r="1.38" fill="#a0001e"/><circle cx="353.1" cy="143.3" r="1.38" fill="#a0001e"/><circle cx="357.3" cy="142.4" r="1.38" fill="#a0001e"/><circle cx="351.7" cy="145.3" r="1.38" fill="#a0001e"/><circle cx="354.7" cy="145.9" r="1.38" fill="#a0001e"/><circle cx="357.5" cy="147.0" r="1.38" fill="#a0001e"/><circle cx="361.6" cy="145.3" r="1.38" fill="#a0001e"/><circle cx="360.1" cy="148.0" r="1.38" fill="#a0001e"/><circle cx="351.7" cy="149.2" r="1.38" fill="#a0001e"/><circle cx="354.7" cy="150.1" r="1.38" fill="#a0001e"/><circle cx="357.5" cy="150.1" r="1.38" fill="#a0001e"/><circle cx="354.7" cy="153.9" r="1.38" fill="#a0001e"/><circle cx="357.5" cy="155.6" r="1.38" fill="#a0001e"/><circle cx="351.7" cy="158.9" r="1.38" fill="#a0001e"/><circle cx="354.7" cy="160.1" r="1.38" fill="#a0001e"/><circle cx="357.5" cy="159.2" r="1.38" fill="#a0001e"/><circle cx="360.1" cy="158.6" r="1.38" fill="#a0001e"/><circle cx="357.5" cy="155.4" r="1.38" fill="#a0001e"/><circle cx="353.1" cy="163.6" r="1.38" fill="#a0001e"/><circle cx="356.0" cy="164.7" r="1.38" fill="#a0001e"/><circle cx="358.8" cy="163.1" r="1.38" fill="#a0001e"/><circle cx="350.0" cy="167.4" r="1.38" fill="#a0001e"/><circle cx="352.6" cy="168.3" r="1.38" fill="#a0001e"/><circle cx="355.7" cy="168.5" r="1.38" fill="#a0001e"/><circle cx="358.8" cy="168.1" r="1.38" fill="#a0001e"/><circle cx="361.9" cy="167.0" r="1.38" fill="#a0001e"/><circle cx="354.1" cy="184.2" r="1.38" fill="#a0001e"/><circle cx="357.4" cy="184.2" r="1.38" fill="#a0001e"/><circle cx="351.4" cy="181.1" r="1.38" fill="#a0001e"/><circle cx="353.6" cy="181.6" r="1.38" fill="#a0001e"/><circle cx="355.8" cy="182.1" r="1.38" fill="#a0001e"/><circle cx="357.9" cy="181.6" r="1.38" fill="#a0001e"/><circle cx="360.1" cy="181.1" r="1.38" fill="#a0001e"/><circle cx="350.2" cy="178.8" r="1.38" fill="#a0001e"/><circle cx="353.0" cy="179.3" r="1.38" fill="#a0001e"/><circle cx="355.8" cy="179.8" r="1.38" fill="#a0001e"/><circle cx="358.6" cy="179.3" r="1.38" fill="#a0001e"/><circle cx="361.4" cy="178.8" r="1.38" fill="#a0001e"/><circle cx="350.1" cy="176.0" r="1.38" fill="#a0001e"/><circle cx="352.0" cy="176.5" r="1.38" fill="#a0001e"/><circle cx="353.9" cy="177.0" r="1.38" fill="#a0001e"/><circle cx="355.9" cy="177.5" r="1.38" fill="#a0001e"/><circle cx="357.8" cy="177.0" r="1.38" fill="#a0001e"/><circle cx="359.7" cy="176.5" r="1.38" fill="#a0001e"/><circle cx="361.6" cy="176.0" r="1.38" fill="#a0001e"/><circle cx="350.0" cy="173.9" r="1.38" fill="#a0001e"/><circle cx="352.3" cy="174.4" r="1.38" fill="#a0001e"/><circle cx="354.7" cy="174.9" r="1.38" fill="#a0001e"/><circle cx="357.0" cy="174.9" r="1.38" fill="#a0001e"/><circle cx="359.3" cy="174.4" r="1.38" fill="#a0001e"/><circle cx="361.7" cy="173.9" r="1.38" fill="#a0001e"/><circle cx="349.8" cy="171.4" r="1.38" fill="#a0001e"/><circle cx="351.8" cy="171.9" r="1.38" fill="#a0001e"/><circle cx="353.8" cy="172.4" r="1.38" fill="#a0001e"/><circle cx="355.8" cy="172.9" r="1.38" fill="#a0001e"/><circle cx="357.8" cy="172.4" r="1.38" fill="#a0001e"/><circle cx="359.8" cy="171.9" r="1.38" fill="#a0001e"/><circle cx="361.8" cy="171.4" r="1.38" fill="#a0001e"/><circle cx="350.1" cy="169.3" r="1.38" fill="#a0001e"/><circle cx="352.4" cy="169.8" r="1.38" fill="#a0001e"/><circle cx="354.6" cy="170.3" r="1.38" fill="#a0001e"/><circle cx="356.9" cy="170.3" r="1.38" fill="#a0001e"/><circle cx="359.1" cy="169.8" r="1.38" fill="#a0001e"/><circle cx="361.4" cy="169.3" r="1.38" fill="#a0001e"/><circle cx="376.3" cy="159.5" r="1.38" fill="#a0001e"/><circle cx="376.3" cy="167.1" r="1.38" fill="#a0001e"/><circle cx="376.3" cy="176.2" r="1.38" fill="#a0001e"/><circle cx="370.8" cy="178.7" r="1.38" fill="#a0001e"/><circle cx="381.6" cy="178.7" r="1.38" fill="#a0001e"/><circle cx="375.1" cy="184.7" r="1.38" fill="#a0001e"/><circle cx="377.4" cy="184.7" r="1.38" fill="#a0001e"/><circle cx="371.7" cy="181.4" r="1.38" fill="#a0001e"/><circle cx="373.5" cy="181.9" r="1.38" fill="#a0001e"/><circle cx="375.3" cy="182.4" r="1.38" fill="#a0001e"/><circle cx="377.2" cy="182.4" r="1.38" fill="#a0001e"/><circle cx="379.0" cy="181.9" r="1.38" fill="#a0001e"/><circle cx="380.8" cy="181.4" r="1.38" fill="#a0001e"/><circle cx="371.1" cy="179.3" r="1.38" fill="#a0001e"/><circle cx="373.7" cy="179.8" r="1.38" fill="#a0001e"/><circle cx="376.2" cy="180.3" r="1.38" fill="#a0001e"/><circle cx="378.8" cy="179.8" r="1.38" fill="#a0001e"/><circle cx="381.4" cy="179.3" r="1.38" fill="#a0001e"/><circle cx="396.5" cy="106.0" r="1.38" fill="#a0001e"/><circle cx="398.0" cy="138.4" r="1.38" fill="#a0001e"/><circle cx="395.2" cy="139.7" r="1.38" fill="#a0001e"/><circle cx="393.8" cy="143.5" r="1.38" fill="#a0001e"/><circle cx="396.7" cy="144.8" r="1.38" fill="#a0001e"/><circle cx="399.6" cy="142.8" r="1.38" fill="#a0001e"/><circle cx="396.7" cy="149.2" r="1.38" fill="#a0001e"/><circle cx="396.7" cy="153.9" r="1.38" fill="#a0001e"/><circle cx="396.7" cy="160.3" r="1.38" fill="#a0001e"/><circle cx="396.7" cy="160.5" r="1.38" fill="#a0001e"/><circle cx="399.6" cy="161.9" r="1.38" fill="#a0001e"/><circle cx="393.8" cy="163.6" r="1.38" fill="#a0001e"/><circle cx="396.7" cy="164.6" r="1.38" fill="#a0001e"/><circle cx="392.3" cy="167.4" r="1.38" fill="#a0001e"/><circle cx="395.2" cy="169.0" r="1.38" fill="#a0001e"/><circle cx="398.0" cy="168.5" r="1.38" fill="#a0001e"/><circle cx="401.1" cy="167.4" r="1.38" fill="#a0001e"/><circle cx="390.6" cy="171.0" r="1.38" fill="#a0001e"/><circle cx="402.6" cy="171.0" r="1.38" fill="#a0001e"/><circle cx="392.5" cy="172.8" r="1.38" fill="#a0001e"/><circle cx="395.3" cy="173.3" r="1.38" fill="#a0001e"/><circle cx="398.1" cy="173.3" r="1.38" fill="#a0001e"/><circle cx="400.8" cy="172.8" r="1.38" fill="#a0001e"/><circle cx="396.6" cy="184.8" r="1.38" fill="#a0001e"/><circle cx="392.5" cy="181.3" r="1.38" fill="#a0001e"/><circle cx="394.6" cy="181.8" r="1.38" fill="#a0001e"/><circle cx="396.6" cy="182.3" r="1.38" fill="#a0001e"/><circle cx="398.7" cy="181.8" r="1.38" fill="#a0001e"/><circle cx="400.8" cy="181.3" r="1.38" fill="#a0001e"/><circle cx="390.8" cy="178.6" r="1.38" fill="#a0001e"/><circle cx="393.1" cy="179.1" r="1.38" fill="#a0001e"/><circle cx="395.4" cy="179.6" r="1.38" fill="#a0001e"/><circle cx="397.7" cy="179.6" r="1.38" fill="#a0001e"/><circle cx="400.0" cy="179.1" r="1.38" fill="#a0001e"/><circle cx="402.3" cy="178.6" r="1.38" fill="#a0001e"/><circle cx="390.6" cy="175.8" r="1.38" fill="#a0001e"/><circle cx="392.6" cy="176.3" r="1.38" fill="#a0001e"/><circle cx="394.6" cy="176.8" r="1.38" fill="#a0001e"/><circle cx="396.6" cy="177.3" r="1.38" fill="#a0001e"/><circle cx="398.6" cy="176.8" r="1.38" fill="#a0001e"/><circle cx="400.6" cy="176.3" r="1.38" fill="#a0001e"/><circle cx="402.6" cy="175.8" r="1.38" fill="#a0001e"/><circle cx="390.9" cy="173.6" r="1.38" fill="#a0001e"/><circle cx="393.2" cy="174.1" r="1.38" fill="#a0001e"/><circle cx="395.4" cy="174.6" r="1.38" fill="#a0001e"/><circle cx="397.7" cy="174.6" r="1.38" fill="#a0001e"/><circle cx="399.9" cy="174.1" r="1.38" fill="#a0001e"/><circle cx="402.2" cy="173.6" r="1.38" fill="#a0001e"/><circle cx="417.1" cy="155.9" r="1.38" fill="#a0001e"/><circle cx="417.1" cy="163.0" r="1.38" fill="#a0001e"/><circle cx="417.1" cy="170.7" r="1.38" fill="#a0001e"/><circle cx="411.2" cy="173.8" r="1.38" fill="#a0001e"/><circle cx="414.0" cy="174.9" r="1.38" fill="#a0001e"/><circle cx="420.0" cy="174.9" r="1.38" fill="#a0001e"/><circle cx="422.9" cy="174.0" r="1.38" fill="#a0001e"/><circle cx="411.3" cy="183.8" r="1.38" fill="#a0001e"/><circle cx="414.1" cy="184.6" r="1.38" fill="#a0001e"/><circle cx="417.1" cy="185.2" r="1.38" fill="#a0001e"/><circle cx="420.0" cy="184.6" r="1.38" fill="#a0001e"/><circle cx="422.8" cy="183.8" r="1.38" fill="#a0001e"/><circle cx="413.1" cy="181.2" r="1.38" fill="#a0001e"/><circle cx="415.9" cy="181.8" r="1.38" fill="#a0001e"/><circle cx="418.6" cy="181.8" r="1.38" fill="#a0001e"/><circle cx="421.4" cy="181.2" r="1.38" fill="#a0001e"/><circle cx="411.9" cy="178.1" r="1.38" fill="#a0001e"/><circle cx="414.0" cy="178.6" r="1.38" fill="#a0001e"/><circle cx="416.2" cy="179.1" r="1.38" fill="#a0001e"/><circle cx="418.3" cy="179.1" r="1.38" fill="#a0001e"/><circle cx="420.5" cy="178.6" r="1.38" fill="#a0001e"/><circle cx="422.6" cy="178.1" r="1.38" fill="#a0001e"/><circle cx="412.1" cy="175.6" r="1.38" fill="#a0001e"/><circle cx="414.7" cy="176.1" r="1.38" fill="#a0001e"/><circle cx="417.2" cy="176.6" r="1.38" fill="#a0001e"/><circle cx="419.8" cy="176.1" r="1.38" fill="#a0001e"/><circle cx="422.4" cy="175.6" r="1.38" fill="#a0001e"/><circle cx="437.3" cy="98.2" r="1.38" fill="#a0001e"/><circle cx="437.3" cy="103.1" r="1.38" fill="#a0001e"/><circle cx="437.3" cy="108.4" r="1.38" fill="#a0001e"/><circle cx="437.3" cy="114.6" r="1.38" fill="#a0001e"/><circle cx="437.3" cy="118.9" r="1.38" fill="#a0001e"/><circle cx="433.0" cy="126.6" r="1.38" fill="#a0001e"/><circle cx="435.9" cy="128.0" r="1.38" fill="#a0001e"/><circle cx="438.9" cy="127.8" r="1.38" fill="#a0001e"/><circle cx="441.7" cy="126.2" r="1.38" fill="#a0001e"/><circle cx="435.9" cy="135.5" r="1.38" fill="#a0001e"/><circle cx="440.1" cy="135.8" r="1.38" fill="#a0001e"/><circle cx="441.7" cy="136.8" r="1.38" fill="#a0001e"/><circle cx="433.0" cy="137.7" r="1.38" fill="#a0001e"/><circle cx="435.9" cy="140.2" r="1.38" fill="#a0001e"/><circle cx="438.9" cy="138.8" r="1.38" fill="#a0001e"/><circle cx="437.3" cy="143.7" r="1.38" fill="#a0001e"/><circle cx="434.4" cy="146.3" r="1.38" fill="#a0001e"/><circle cx="437.3" cy="147.0" r="1.38" fill="#a0001e"/><circle cx="440.1" cy="146.8" r="1.38" fill="#a0001e"/><circle cx="432.0" cy="150.9" r="1.38" fill="#a0001e"/><circle cx="434.8" cy="151.6" r="1.38" fill="#a0001e"/><circle cx="437.3" cy="152.0" r="1.38" fill="#a0001e"/><circle cx="440.1" cy="151.1" r="1.38" fill="#a0001e"/><circle cx="442.8" cy="149.9" r="1.38" fill="#a0001e"/><circle cx="437.3" cy="155.5" r="1.38" fill="#a0001e"/><circle cx="435.9" cy="158.4" r="1.38" fill="#a0001e"/><circle cx="438.9" cy="159.1" r="1.38" fill="#a0001e"/><circle cx="435.1" cy="182.5" r="1.38" fill="#a0001e"/><circle cx="437.5" cy="183.0" r="1.38" fill="#a0001e"/><circle cx="439.9" cy="182.5" r="1.38" fill="#a0001e"/><circle cx="432.6" cy="179.4" r="1.38" fill="#a0001e"/><circle cx="434.4" cy="179.9" r="1.38" fill="#a0001e"/><circle cx="436.3" cy="180.4" r="1.38" fill="#a0001e"/><circle cx="438.2" cy="180.4" r="1.38" fill="#a0001e"/><circle cx="440.1" cy="179.9" r="1.38" fill="#a0001e"/><circle cx="441.9" cy="179.4" r="1.38" fill="#a0001e"/><circle cx="431.7" cy="177.2" r="1.38" fill="#a0001e"/><circle cx="434.5" cy="177.7" r="1.38" fill="#a0001e"/><circle cx="437.2" cy="178.2" r="1.38" fill="#a0001e"/><circle cx="440.0" cy="177.7" r="1.38" fill="#a0001e"/><circle cx="442.8" cy="177.2" r="1.38" fill="#a0001e"/><circle cx="432.1" cy="174.6" r="1.38" fill="#a0001e"/><circle cx="434.1" cy="175.1" r="1.38" fill="#a0001e"/><circle cx="436.2" cy="175.6" r="1.38" fill="#a0001e"/><circle cx="438.3" cy="175.6" r="1.38" fill="#a0001e"/><circle cx="440.4" cy="175.1" r="1.38" fill="#a0001e"/><circle cx="442.4" cy="174.6" r="1.38" fill="#a0001e"/><circle cx="431.5" cy="172.2" r="1.38" fill="#a0001e"/><circle cx="433.8" cy="172.7" r="1.38" fill="#a0001e"/><circle cx="436.1" cy="173.2" r="1.38" fill="#a0001e"/><circle cx="438.4" cy="173.2" r="1.38" fill="#a0001e"/><circle cx="440.7" cy="172.7" r="1.38" fill="#a0001e"/><circle cx="443.0" cy="172.2" r="1.38" fill="#a0001e"/><circle cx="431.5" cy="169.6" r="1.38" fill="#a0001e"/><circle cx="433.5" cy="170.1" r="1.38" fill="#a0001e"/><circle cx="435.4" cy="170.6" r="1.38" fill="#a0001e"/><circle cx="437.3" cy="171.1" r="1.38" fill="#a0001e"/><circle cx="439.2" cy="170.6" r="1.38" fill="#a0001e"/><circle cx="441.1" cy="170.1" r="1.38" fill="#a0001e"/><circle cx="443.0" cy="169.6" r="1.38" fill="#a0001e"/><circle cx="432.1" cy="167.7" r="1.38" fill="#a0001e"/><circle cx="434.7" cy="168.2" r="1.38" fill="#a0001e"/><circle cx="437.2" cy="168.7" r="1.38" fill="#a0001e"/><circle cx="439.8" cy="168.2" r="1.38" fill="#a0001e"/><circle cx="442.4" cy="167.7" r="1.38" fill="#a0001e"/><circle cx="431.7" cy="165.0" r="1.38" fill="#a0001e"/><circle cx="433.9" cy="165.5" r="1.38" fill="#a0001e"/><circle cx="436.1" cy="166.0" r="1.38" fill="#a0001e"/><circle cx="438.4" cy="166.0" r="1.38" fill="#a0001e"/><circle cx="440.6" cy="165.5" r="1.38" fill="#a0001e"/><circle cx="442.8" cy="165.0" r="1.38" fill="#a0001e"/><circle cx="431.7" cy="162.9" r="1.38" fill="#a0001e"/><circle cx="434.5" cy="163.4" r="1.38" fill="#a0001e"/><circle cx="437.2" cy="163.9" r="1.38" fill="#a0001e"/><circle cx="440.0" cy="163.4" r="1.38" fill="#a0001e"/><circle cx="442.8" cy="162.9" r="1.38" fill="#a0001e"/><circle cx="432.1" cy="160.2" r="1.38" fill="#a0001e"/><circle cx="434.2" cy="160.8" r="1.38" fill="#a0001e"/><circle cx="436.3" cy="161.2" r="1.38" fill="#a0001e"/><circle cx="438.4" cy="161.2" r="1.38" fill="#a0001e"/><circle cx="440.5" cy="160.8" r="1.38" fill="#a0001e"/><circle cx="442.6" cy="160.2" r="1.38" fill="#a0001e"/><circle cx="457.6" cy="110.8" r="1.38" fill="#a0001e"/><circle cx="457.6" cy="145.7" r="1.38" fill="#a0001e"/><circle cx="456.3" cy="152.7" r="1.38" fill="#a0001e"/><circle cx="459.2" cy="153.2" r="1.38" fill="#a0001e"/><circle cx="459.2" cy="156.4" r="1.38" fill="#a0001e"/><circle cx="455.0" cy="158.2" r="1.38" fill="#a0001e"/><circle cx="456.6" cy="159.5" r="1.38" fill="#a0001e"/><circle cx="459.2" cy="162.4" r="1.38" fill="#a0001e"/><circle cx="455.0" cy="164.8" r="1.38" fill="#a0001e"/><circle cx="460.3" cy="166.0" r="1.38" fill="#a0001e"/><circle cx="452.2" cy="172.8" r="1.38" fill="#a0001e"/><circle cx="458.0" cy="172.6" r="1.38" fill="#a0001e"/><circle cx="463.0" cy="173.7" r="1.38" fill="#a0001e"/><circle cx="454.7" cy="174.5" r="1.38" fill="#a0001e"/><circle cx="460.5" cy="174.8" r="1.38" fill="#a0001e"/><circle cx="453.1" cy="177.0" r="1.38" fill="#a0001e"/><circle cx="455.8" cy="177.3" r="1.38" fill="#a0001e"/><circle cx="458.9" cy="177.3" r="1.38" fill="#a0001e"/><circle cx="461.4" cy="177.0" r="1.38" fill="#a0001e"/><circle cx="463.6" cy="176.7" r="1.38" fill="#a0001e"/><circle cx="456.1" cy="182.2" r="1.38" fill="#a0001e"/><circle cx="459.4" cy="182.2" r="1.38" fill="#a0001e"/><circle cx="452.7" cy="179.4" r="1.38" fill="#a0001e"/><circle cx="454.7" cy="179.9" r="1.38" fill="#a0001e"/><circle cx="456.7" cy="180.4" r="1.38" fill="#a0001e"/><circle cx="458.8" cy="180.4" r="1.38" fill="#a0001e"/><circle cx="460.8" cy="179.9" r="1.38" fill="#a0001e"/><circle cx="462.8" cy="179.4" r="1.38" fill="#a0001e"/><circle cx="451.8" cy="177.7" r="1.38" fill="#a0001e"/><circle cx="454.2" cy="178.2" r="1.38" fill="#a0001e"/><circle cx="456.6" cy="178.7" r="1.38" fill="#a0001e"/><circle cx="459.0" cy="178.7" r="1.38" fill="#a0001e"/><circle cx="461.4" cy="178.2" r="1.38" fill="#a0001e"/><circle cx="463.8" cy="177.7" r="1.38" fill="#a0001e"/><circle cx="478.0" cy="39.0" r="1.38" fill="#a0001e"/><circle cx="478.0" cy="87.2" r="1.38" fill="#a0001e"/><circle cx="476.7" cy="104.3" r="1.38" fill="#a0001e"/><circle cx="473.7" cy="109.1" r="1.38" fill="#a0001e"/><circle cx="476.4" cy="110.5" r="1.38" fill="#a0001e"/><circle cx="479.2" cy="109.1" r="1.38" fill="#a0001e"/><circle cx="480.9" cy="107.0" r="1.38" fill="#a0001e"/><circle cx="482.4" cy="109.1" r="1.38" fill="#a0001e"/><circle cx="480.9" cy="111.9" r="1.38" fill="#a0001e"/><circle cx="475.1" cy="112.8" r="1.38" fill="#a0001e"/><circle cx="478.0" cy="114.6" r="1.38" fill="#a0001e"/><circle cx="478.0" cy="118.8" r="1.38" fill="#a0001e"/><circle cx="476.4" cy="121.4" r="1.38" fill="#a0001e"/><circle cx="479.3" cy="124.0" r="1.38" fill="#a0001e"/><circle cx="475.0" cy="126.5" r="1.38" fill="#a0001e"/><circle cx="478.0" cy="129.0" r="1.38" fill="#a0001e"/><circle cx="480.9" cy="128.1" r="1.38" fill="#a0001e"/><circle cx="475.0" cy="133.1" r="1.38" fill="#a0001e"/><circle cx="478.0" cy="134.0" r="1.38" fill="#a0001e"/><circle cx="480.9" cy="132.3" r="1.38" fill="#a0001e"/><circle cx="476.4" cy="137.6" r="1.38" fill="#a0001e"/><circle cx="479.5" cy="137.1" r="1.38" fill="#a0001e"/><circle cx="475.0" cy="140.5" r="1.38" fill="#a0001e"/><circle cx="478.0" cy="141.4" r="1.38" fill="#a0001e"/><circle cx="480.9" cy="140.0" r="1.38" fill="#a0001e"/><circle cx="476.4" cy="145.9" r="1.38" fill="#a0001e"/><circle cx="479.3" cy="144.9" r="1.38" fill="#a0001e"/><circle cx="480.9" cy="145.9" r="1.38" fill="#a0001e"/><circle cx="475.1" cy="147.5" r="1.38" fill="#a0001e"/><circle cx="477.7" cy="149.5" r="1.38" fill="#a0001e"/><circle cx="482.2" cy="150.4" r="1.38" fill="#a0001e"/><circle cx="472.2" cy="152.4" r="1.38" fill="#a0001e"/><circle cx="476.4" cy="153.0" r="1.38" fill="#a0001e"/><circle cx="479.3" cy="153.0" r="1.38" fill="#a0001e"/><circle cx="473.8" cy="154.9" r="1.38" fill="#a0001e"/><circle cx="483.5" cy="154.9" r="1.38" fill="#a0001e"/><circle cx="474.3" cy="158.3" r="1.38" fill="#a0001e"/><circle cx="477.2" cy="158.0" r="1.38" fill="#a0001e"/><circle cx="482.2" cy="158.3" r="1.38" fill="#a0001e"/><circle cx="477.0" cy="160.4" r="1.38" fill="#a0001e"/><circle cx="479.3" cy="160.1" r="1.38" fill="#a0001e"/><circle cx="472.8" cy="162.0" r="1.38" fill="#a0001e"/><circle cx="475.7" cy="162.7" r="1.38" fill="#a0001e"/><circle cx="478.3" cy="162.7" r="1.38" fill="#a0001e"/><circle cx="480.9" cy="162.7" r="1.38" fill="#a0001e"/><circle cx="483.5" cy="162.0" r="1.38" fill="#a0001e"/><circle cx="471.9" cy="165.3" r="1.38" fill="#a0001e"/><circle cx="474.5" cy="166.4" r="1.38" fill="#a0001e"/><circle cx="477.7" cy="167.2" r="1.38" fill="#a0001e"/><circle cx="480.9" cy="166.4" r="1.38" fill="#a0001e"/><circle cx="483.5" cy="165.3" r="1.38" fill="#a0001e"/><circle cx="473.8" cy="170.4" r="1.38" fill="#a0001e"/><circle cx="480.9" cy="169.8" r="1.38" fill="#a0001e"/><circle cx="481.0" cy="169.3" r="1.38" fill="#a0001e"/><circle cx="473.6" cy="171.6" r="1.38" fill="#a0001e"/><circle cx="478.0" cy="171.9" r="1.38" fill="#a0001e"/><circle cx="475.1" cy="173.0" r="1.38" fill="#a0001e"/><circle cx="481.0" cy="173.9" r="1.38" fill="#a0001e"/><circle cx="478.0" cy="175.1" r="1.38" fill="#a0001e"/><circle cx="472.3" cy="178.7" r="1.38" fill="#a0001e"/><circle cx="473.9" cy="179.4" r="1.38" fill="#a0001e"/><circle cx="475.4" cy="179.7" r="1.38" fill="#a0001e"/><circle cx="477.2" cy="179.3" r="1.38" fill="#a0001e"/><circle cx="479.2" cy="179.1" r="1.38" fill="#a0001e"/><circle cx="481.2" cy="178.8" r="1.38" fill="#a0001e"/><circle cx="483.2" cy="178.3" r="1.38" fill="#a0001e"/><circle cx="471.8" cy="180.5" r="1.38" fill="#a0001e"/><circle cx="473.6" cy="180.8" r="1.38" fill="#a0001e"/><circle cx="475.4" cy="181.2" r="1.38" fill="#a0001e"/><circle cx="477.2" cy="181.5" r="1.38" fill="#a0001e"/><circle cx="479.0" cy="181.2" r="1.38" fill="#a0001e"/><circle cx="481.0" cy="180.8" r="1.38" fill="#a0001e"/><circle cx="483.8" cy="180.5" r="1.38" fill="#a0001e"/><circle cx="472.5" cy="181.8" r="1.38" fill="#a0001e"/><circle cx="474.1" cy="182.2" r="1.38" fill="#a0001e"/><circle cx="476.1" cy="182.9" r="1.38" fill="#a0001e"/><circle cx="477.9" cy="183.4" r="1.38" fill="#a0001e"/><circle cx="479.7" cy="182.9" r="1.38" fill="#a0001e"/><circle cx="481.2" cy="182.2" r="1.38" fill="#a0001e"/><circle cx="483.0" cy="181.7" r="1.38" fill="#a0001e"/><circle cx="476.5" cy="183.8" r="1.38" fill="#a0001e"/><circle cx="477.9" cy="184.4" r="1.38" fill="#a0001e"/><circle cx="479.3" cy="183.8" r="1.38" fill="#a0001e"/><circle cx="498.3" cy="106.3" r="1.38" fill="#a0001e"/><circle cx="498.3" cy="116.3" r="1.38" fill="#a0001e"/><circle cx="498.3" cy="140.2" r="1.38" fill="#a0001e"/><circle cx="497.0" cy="146.6" r="1.38" fill="#a0001e"/><circle cx="499.8" cy="144.9" r="1.38" fill="#a0001e"/><circle cx="496.9" cy="146.5" r="1.38" fill="#a0001e"/><circle cx="500.0" cy="145.5" r="1.38" fill="#a0001e"/><circle cx="498.5" cy="159.2" r="1.38" fill="#a0001e"/><circle cx="499.6" cy="167.9" r="1.38" fill="#a0001e"/><circle cx="496.8" cy="169.8" r="1.38" fill="#a0001e"/><circle cx="495.2" cy="173.7" r="1.38" fill="#a0001e"/><circle cx="501.0" cy="172.8" r="1.38" fill="#a0001e"/><circle cx="492.7" cy="175.8" r="1.38" fill="#a0001e"/><circle cx="495.7" cy="176.0" r="1.38" fill="#a0001e"/><circle cx="501.0" cy="176.2" r="1.38" fill="#a0001e"/><circle cx="504.0" cy="175.8" r="1.38" fill="#a0001e"/><circle cx="493.6" cy="179.6" r="1.38" fill="#a0001e"/><circle cx="496.1" cy="179.8" r="1.38" fill="#a0001e"/><circle cx="498.5" cy="179.9" r="1.38" fill="#a0001e"/><circle cx="500.9" cy="179.8" r="1.38" fill="#a0001e"/><circle cx="503.3" cy="179.6" r="1.38" fill="#a0001e"/><circle cx="494.5" cy="180.8" r="1.38" fill="#a0001e"/><circle cx="497.0" cy="181.0" r="1.38" fill="#a0001e"/><circle cx="499.8" cy="181.0" r="1.38" fill="#a0001e"/><circle cx="502.3" cy="180.8" r="1.38" fill="#a0001e"/><circle cx="491.8" cy="181.7" r="1.38" fill="#a0001e"/><circle cx="505.0" cy="181.7" r="1.38" fill="#a0001e"/><circle cx="493.6" cy="182.4" r="1.38" fill="#a0001e"/><circle cx="503.2" cy="182.4" r="1.38" fill="#a0001e"/><circle cx="496.0" cy="183.2" r="1.38" fill="#a0001e"/><circle cx="500.8" cy="183.2" r="1.38" fill="#a0001e"/><circle cx="498.4" cy="183.9" r="1.38" fill="#a0001e"/><circle cx="496.5" cy="184.6" r="1.38" fill="#a0001e"/><circle cx="500.3" cy="184.6" r="1.38" fill="#a0001e"/><circle cx="498.4" cy="185.2" r="1.38" fill="#a0001e"/><path d="M301.8 31.2 V186.0 M298.40000000000003 186.0 H512.3" stroke="#000" stroke-width="1.3" fill="none"/><path d="M298.40000000000003 147.8 H301.8" stroke="#000" stroke-width="1.1"/><path d="M298.40000000000003 109.6 H301.8" stroke="#000" stroke-width="1.1"/><path d="M298.40000000000003 71.4 H301.8" stroke="#000" stroke-width="1.1"/><path d="M298.40000000000003 33.2 H301.8" stroke="#000" stroke-width="1.1"/><text x="295.40000000000003" y="188.2" text-anchor="end" font-family='"Liberation Sans", sans-serif' font-size="8.8" fill="#222">0</text><text x="295.40000000000003" y="150.0" text-anchor="end" font-family='"Liberation Sans", sans-serif' font-size="8.8" fill="#222" textLength="8.9" lengthAdjust="spacingAndGlyphs">20</text><text x="295.40000000000003" y="111.8" text-anchor="end" font-family='"Liberation Sans", sans-serif' font-size="8.8" fill="#222" textLength="8.9" lengthAdjust="spacingAndGlyphs">40</text><text x="295.40000000000003" y="73.6" text-anchor="end" font-family='"Liberation Sans", sans-serif' font-size="8.8" fill="#222" textLength="8.9" lengthAdjust="spacingAndGlyphs">60</text><text x="295.40000000000003" y="35.4" text-anchor="end" font-family='"Liberation Sans", sans-serif' font-size="8.8" fill="#222" textLength="8.9" lengthAdjust="spacingAndGlyphs">80</text><path d="M315.3 186.0 V189.0" stroke="#333" stroke-width="0.9"/><text x="315.3" y="199.6" text-anchor="middle" font-family='"Liberation Sans", sans-serif' font-style="italic" font-size="8.6" fill="#111" stroke="#111" stroke-width="0.2">WT</text><path d="M335.6 186.0 V189.0" stroke="#333" stroke-width="0.9"/><text x="335.6" y="199.6" text-anchor="middle" font-family='"Liberation Sans", sans-serif' font-style="italic" font-size="8.6" fill="#111" stroke="#111" stroke-width="0.2">Mut</text><path d="M356.0 186.0 V189.0" stroke="#333" stroke-width="0.9"/><text x="356.0" y="199.6" text-anchor="middle" font-family='"Liberation Sans", sans-serif' font-style="italic" font-size="8.6" fill="#111" stroke="#111" stroke-width="0.2">WT</text><path d="M376.3 186.0 V189.0" stroke="#333" stroke-width="0.9"/><text x="376.3" y="199.6" text-anchor="middle" font-family='"Liberation Sans", sans-serif' font-style="italic" font-size="8.6" fill="#111" stroke="#111" stroke-width="0.2">Mut</text><path d="M396.6 186.0 V189.0" stroke="#333" stroke-width="0.9"/><text x="396.6" y="199.6" text-anchor="middle" font-family='"Liberation Sans", sans-serif' font-style="italic" font-size="8.6" fill="#111" stroke="#111" stroke-width="0.2">WT</text><path d="M416.9 186.0 V189.0" stroke="#333" stroke-width="0.9"/><text x="416.9" y="199.6" text-anchor="middle" font-family='"Liberation Sans", sans-serif' font-style="italic" font-size="8.6" fill="#111" stroke="#111" stroke-width="0.2">Mut</text><path d="M437.3 186.0 V189.0" stroke="#333" stroke-width="0.9"/><text x="437.3" y="199.6" text-anchor="middle" font-family='"Liberation Sans", sans-serif' font-style="italic" font-size="8.6" fill="#111" stroke="#111" stroke-width="0.2">WT</text><path d="M457.6 186.0 V189.0" stroke="#333" stroke-width="0.9"/><text x="457.6" y="199.6" text-anchor="middle" font-family='"Liberation Sans", sans-serif' font-style="italic" font-size="8.6" fill="#111" stroke="#111" stroke-width="0.2">Mut</text><path d="M477.9 186.0 V189.0" stroke="#333" stroke-width="0.9"/><text x="477.9" y="199.6" text-anchor="middle" font-family='"Liberation Sans", sans-serif' font-style="italic" font-size="8.6" fill="#111" stroke="#111" stroke-width="0.2">WT</text><path d="M498.3 186.0 V189.0" stroke="#333" stroke-width="0.9"/><text x="498.3" y="199.6" text-anchor="middle" font-family='"Liberation Sans", sans-serif' font-style="italic" font-size="8.6" fill="#111" stroke="#111" stroke-width="0.2">Mut</text><path d="M309.5 205.4 H342.1" stroke="#1a1a1a" stroke-width="1.2"/><text x="325.8" y="215.0" text-anchor="middle" font-family='"Liberation Sans", sans-serif' font-size="8.3" fill="#111" stroke="#111" stroke-width="0.15">T Cells</text><path d="M350.1 205.4 H382.7" stroke="#1a1a1a" stroke-width="1.2"/><text x="366.4" y="215.0" text-anchor="middle" font-family='"Liberation Sans", sans-serif' font-size="8.3" fill="#111" stroke="#111" stroke-width="0.15">CD8+</text><path d="M390.8 205.4 H423.4" stroke="#1a1a1a" stroke-width="1.2"/><text x="407.1" y="215.0" text-anchor="middle" font-family='"Liberation Sans", sans-serif' font-size="8.3" fill="#111" stroke="#111" stroke-width="0.15">CD4+</text><path d="M431.4 205.4 H464.0" stroke="#1a1a1a" stroke-width="1.2"/><text x="447.7" y="215.0" text-anchor="middle" font-family='"Liberation Sans", sans-serif' font-size="8.3" fill="#111" stroke="#111" stroke-width="0.15">Tregs</text><path d="M472.1 205.4 H504.7" stroke="#1a1a1a" stroke-width="1.2"/><text x="488.4" y="215.0" text-anchor="middle" font-family='"Liberation Sans", sans-serif' font-size="8.3" fill="#111" stroke="#111" stroke-width="0.15">NK Cells</text><text transform="translate(280.5,108.7) rotate(-90)" text-anchor="middle" font-family='"Liberation Sans", sans-serif' font-size="10" fill="#222" textLength="54.8" lengthAdjust="spacingAndGlyphs">Percent OX40+</text><path d="M308.4 172.3 H322.2" stroke="#000" stroke-width="1.4" fill="none"/><path d="M315.3 168.5 V174.2 M312.3 168.5 H318.3 M312.3 174.2 H318.3" stroke="#000" stroke-width="1.1" fill="none"/><path d="M328.6 180.0 H342.4" stroke="#000" stroke-width="1.4" fill="none"/><path d="M335.5 177.6 V181.5 M332.5 177.6 H338.5 M332.5 181.5 H338.5" stroke="#000" stroke-width="1.1" fill="none"/><path d="M348.7 173.6 H362.7" stroke="#000" stroke-width="1.4" fill="none"/><path d="M355.7 168.3 V176.0 M352.7 168.3 H358.7 M352.7 176.0 H358.7" stroke="#000" stroke-width="1.1" fill="none"/><path d="M369.5 181.5 H383.1" stroke="#000" stroke-width="1.4" fill="none"/><path d="M376.3 180.5 V182.4 M373.5 180.5 H379.1 M373.5 182.4 H379.1" stroke="#000" stroke-width="1.1" fill="none"/><path d="M389.7 177.8 H403.5" stroke="#000" stroke-width="1.4" fill="none"/><path d="M396.6 174.0 V179.0 M393.6 174.0 H399.6 M393.6 179.0 H399.6" stroke="#000" stroke-width="1.1" fill="none"/><path d="M410.1 178.9 H424.1" stroke="#000" stroke-width="1.4" fill="none"/><path d="M417.1 177.0 V180.5 M414.3 177.0 H419.9 M414.3 180.5 H419.9" stroke="#000" stroke-width="1.1" fill="none"/><path d="M430.4 166.2 H444.2" stroke="#000" stroke-width="1.4" fill="none"/><path d="M437.3 161.1 V170.1 M434.1 161.1 H440.5 M434.1 170.1 H440.5" stroke="#000" stroke-width="1.1" fill="none"/><path d="M450.8 175.3 H464.4" stroke="#000" stroke-width="1.4" fill="none"/><path d="M457.6 166.5 V177.3 M454.8 166.5 H460.4 M454.8 177.3 H460.4" stroke="#000" stroke-width="1.1" fill="none"/><path d="M471.2 156.7 H485.1" stroke="#000" stroke-width="1.4" fill="none"/><path d="M478.1 147.5 V162.4 M475.1 147.5 H481.1 M475.1 162.4 H481.1" stroke="#000" stroke-width="1.1" fill="none"/><path d="M491.8 178.5 H505.0" stroke="#000" stroke-width="1.4" fill="none"/><path d="M498.4 173.9 V179.0 M495.4 173.9 H501.4 M495.4 179.0 H501.4" stroke="#000" stroke-width="1.1" fill="none"/><text x="7.4" y="244.0" font-family='"Liberation Sans", sans-serif' font-weight="bold" font-size="11.9" fill="#000" stroke="#000" stroke-width="0.4">C</text><circle cx="47.2" cy="333.7" r="1.38" fill="#a0001e"/><circle cx="50.1" cy="334.7" r="1.38" fill="#a0001e"/><circle cx="52.9" cy="332.5" r="1.38" fill="#a0001e"/><circle cx="47.2" cy="339.0" r="1.38" fill="#a0001e"/><circle cx="50.1" cy="342.0" r="1.38" fill="#a0001e"/><circle cx="52.9" cy="341.4" r="1.38" fill="#a0001e"/><circle cx="48.7" cy="347.1" r="1.38" fill="#a0001e"/><circle cx="51.6" cy="347.8" r="1.38" fill="#a0001e"/><circle cx="47.2" cy="350.2" r="1.38" fill="#a0001e"/><circle cx="50.1" cy="352.0" r="1.38" fill="#a0001e"/><circle cx="52.9" cy="352.0" r="1.38" fill="#a0001e"/><circle cx="48.7" cy="354.0" r="1.38" fill="#a0001e"/><circle cx="52.9" cy="356.7" r="1.38" fill="#a0001e"/><circle cx="51.6" cy="358.5" r="1.38" fill="#a0001e"/><circle cx="48.7" cy="359.5" r="1.38" fill="#a0001e"/><circle cx="52.7" cy="356.5" r="1.38" fill="#a0001e"/><circle cx="54.2" cy="363.1" r="1.38" fill="#a0001e"/><circle cx="44.6" cy="364.1" r="1.38" fill="#a0001e"/><circle cx="50.2" cy="362.6" r="1.38" fill="#a0001e"/><circle cx="51.7" cy="365.1" r="1.38" fill="#a0001e"/><circle cx="47.2" cy="366.5" r="1.38" fill="#a0001e"/><circle cx="54.9" cy="367.8" r="1.38" fill="#a0001e"/><circle cx="51.7" cy="368.0" r="1.38" fill="#a0001e"/><circle cx="48.7" cy="368.0" r="1.38" fill="#a0001e"/><circle cx="45.6" cy="387.5" r="1.38" fill="#a0001e"/><circle cx="49.2" cy="388.5" r="1.38" fill="#a0001e"/><circle cx="51.7" cy="389.5" r="1.38" fill="#a0001e"/><circle cx="54.7" cy="388.0" r="1.38" fill="#a0001e"/><circle cx="43.6" cy="391.0" r="1.38" fill="#a0001e"/><circle cx="47.1" cy="392.0" r="1.38" fill="#a0001e"/><circle cx="50.2" cy="393.0" r="1.38" fill="#a0001e"/><circle cx="53.2" cy="392.0" r="1.38" fill="#a0001e"/><circle cx="56.3" cy="391.0" r="1.38" fill="#a0001e"/><circle cx="46.1" cy="384.9" r="1.38" fill="#a0001e"/><circle cx="48.9" cy="385.5" r="1.38" fill="#a0001e"/><circle cx="51.6" cy="385.5" r="1.38" fill="#a0001e"/><circle cx="54.4" cy="384.9" r="1.38" fill="#a0001e"/><circle cx="44.8" cy="381.6" r="1.38" fill="#a0001e"/><circle cx="47.0" cy="382.2" r="1.38" fill="#a0001e"/><circle cx="49.2" cy="382.8" r="1.38" fill="#a0001e"/><circle cx="51.3" cy="382.8" r="1.38" fill="#a0001e"/><circle cx="53.5" cy="382.2" r="1.38" fill="#a0001e"/><circle cx="55.7" cy="381.6" r="1.38" fill="#a0001e"/><circle cx="44.2" cy="379.0" r="1.38" fill="#a0001e"/><circle cx="46.6" cy="379.6" r="1.38" fill="#a0001e"/><circle cx="49.1" cy="380.2" r="1.38" fill="#a0001e"/><circle cx="51.5" cy="380.2" r="1.38" fill="#a0001e"/><circle cx="54.0" cy="379.6" r="1.38" fill="#a0001e"/><circle cx="56.4" cy="379.0" r="1.38" fill="#a0001e"/><circle cx="44.0" cy="376.0" r="1.38" fill="#a0001e"/><circle cx="46.1" cy="376.6" r="1.38" fill="#a0001e"/><circle cx="48.2" cy="377.2" r="1.38" fill="#a0001e"/><circle cx="50.3" cy="377.8" r="1.38" fill="#a0001e"/><circle cx="52.4" cy="377.2" r="1.38" fill="#a0001e"/><circle cx="54.5" cy="376.6" r="1.38" fill="#a0001e"/><circle cx="56.6" cy="376.0" r="1.38" fill="#a0001e"/><circle cx="43.9" cy="373.6" r="1.38" fill="#a0001e"/><circle cx="46.5" cy="374.2" r="1.38" fill="#a0001e"/><circle cx="49.0" cy="374.8" r="1.38" fill="#a0001e"/><circle cx="51.6" cy="374.8" r="1.38" fill="#a0001e"/><circle cx="54.1" cy="374.2" r="1.38" fill="#a0001e"/><circle cx="56.7" cy="373.6" r="1.38" fill="#a0001e"/><circle cx="44.2" cy="370.7" r="1.38" fill="#a0001e"/><circle cx="46.2" cy="371.3" r="1.38" fill="#a0001e"/><circle cx="48.3" cy="371.9" r="1.38" fill="#a0001e"/><circle cx="50.3" cy="372.5" r="1.38" fill="#a0001e"/><circle cx="52.3" cy="371.9" r="1.38" fill="#a0001e"/><circle cx="54.4" cy="371.3" r="1.38" fill="#a0001e"/><circle cx="56.4" cy="370.7" r="1.38" fill="#a0001e"/><circle cx="44.6" cy="368.6" r="1.38" fill="#a0001e"/><circle cx="47.4" cy="369.2" r="1.38" fill="#a0001e"/><circle cx="50.2" cy="369.8" r="1.38" fill="#a0001e"/><circle cx="53.1" cy="369.2" r="1.38" fill="#a0001e"/><circle cx="55.9" cy="368.6" r="1.38" fill="#a0001e"/><circle cx="70.5" cy="293.7" r="1.38" fill="#a0001e"/><circle cx="70.4" cy="322.8" r="1.38" fill="#a0001e"/><circle cx="70.6" cy="346.2" r="1.38" fill="#a0001e"/><circle cx="69.0" cy="359.1" r="1.38" fill="#a0001e"/><circle cx="72.1" cy="358.5" r="1.38" fill="#a0001e"/><circle cx="64.9" cy="362.2" r="1.38" fill="#a0001e"/><circle cx="67.4" cy="363.2" r="1.38" fill="#a0001e"/><circle cx="70.5" cy="364.0" r="1.38" fill="#a0001e"/><circle cx="73.5" cy="363.3" r="1.38" fill="#a0001e"/><circle cx="77.1" cy="362.4" r="1.38" fill="#a0001e"/><circle cx="68.9" cy="373.8" r="1.38" fill="#a0001e"/><circle cx="72.0" cy="374.4" r="1.38" fill="#a0001e"/><circle cx="65.9" cy="379.0" r="1.38" fill="#a0001e"/><circle cx="69.5" cy="379.3" r="1.38" fill="#a0001e"/><circle cx="72.0" cy="379.0" r="1.38" fill="#a0001e"/><circle cx="75.0" cy="378.4" r="1.38" fill="#a0001e"/><circle cx="70.5" cy="386.6" r="1.38" fill="#a0001e"/><circle cx="64.9" cy="390.0" r="1.38" fill="#a0001e"/><circle cx="67.4" cy="391.0" r="1.38" fill="#a0001e"/><circle cx="70.5" cy="391.3" r="1.38" fill="#a0001e"/><circle cx="73.5" cy="390.6" r="1.38" fill="#a0001e"/><circle cx="76.0" cy="389.5" r="1.38" fill="#a0001e"/><circle cx="70.5" cy="394.5" r="1.38" fill="#a0001e"/><circle cx="91.1" cy="257.5" r="1.38" fill="#a0001e"/><circle cx="89.5" cy="262.4" r="1.38" fill="#a0001e"/><circle cx="92.6" cy="264.9" r="1.38" fill="#a0001e"/><circle cx="91.1" cy="278.1" r="1.38" fill="#a0001e"/><circle cx="91.1" cy="282.5" r="1.38" fill="#a0001e"/><circle cx="91.1" cy="288.2" r="1.38" fill="#a0001e"/><circle cx="91.1" cy="296.2" r="1.38" fill="#a0001e"/><circle cx="92.6" cy="298.7" r="1.38" fill="#a0001e"/><circle cx="89.5" cy="300.2" r="1.38" fill="#a0001e"/><circle cx="91.1" cy="309.5" r="1.38" fill="#a0001e"/><circle cx="89.5" cy="319.6" r="1.38" fill="#a0001e"/><circle cx="92.7" cy="319.6" r="1.38" fill="#a0001e"/><circle cx="89.5" cy="327.4" r="1.38" fill="#a0001e"/><circle cx="92.7" cy="327.4" r="1.38" fill="#a0001e"/><circle cx="91.2" cy="332.6" r="1.38" fill="#a0001e"/><circle cx="89.5" cy="336.1" r="1.38" fill="#a0001e"/><circle cx="92.7" cy="337.7" r="1.38" fill="#a0001e"/><circle cx="88.3" cy="344.4" r="1.38" fill="#a0001e"/><circle cx="90.9" cy="347.2" r="1.38" fill="#a0001e"/><circle cx="93.7" cy="346.9" r="1.38" fill="#a0001e"/><circle cx="88.1" cy="351.0" r="1.38" fill="#a0001e"/><circle cx="90.9" cy="352.3" r="1.38" fill="#a0001e"/><circle cx="93.7" cy="350.0" r="1.38" fill="#a0001e"/><circle cx="88.1" cy="355.9" r="1.38" fill="#a0001e"/><circle cx="93.7" cy="355.5" r="1.38" fill="#a0001e"/><circle cx="90.9" cy="358.1" r="1.38" fill="#a0001e"/><circle cx="89.8" cy="381.0" r="1.38" fill="#a0001e"/><circle cx="92.3" cy="381.5" r="1.38" fill="#a0001e"/><circle cx="89.8" cy="384.5" r="1.38" fill="#a0001e"/><circle cx="92.3" cy="384.0" r="1.38" fill="#a0001e"/><circle cx="85.7" cy="389.0" r="1.38" fill="#a0001e"/><circle cx="88.3" cy="390.3" r="1.38" fill="#a0001e"/><circle cx="90.9" cy="391.7" r="1.38" fill="#a0001e"/><circle cx="93.7" cy="390.8" r="1.38" fill="#a0001e"/><circle cx="96.6" cy="389.0" r="1.38" fill="#a0001e"/><circle cx="87.1" cy="369.9" r="1.38" fill="#a0001e"/><circle cx="89.7" cy="370.5" r="1.38" fill="#a0001e"/><circle cx="92.3" cy="370.5" r="1.38" fill="#a0001e"/><circle cx="94.9" cy="369.9" r="1.38" fill="#a0001e"/><circle cx="85.9" cy="366.6" r="1.38" fill="#a0001e"/><circle cx="88.0" cy="367.2" r="1.38" fill="#a0001e"/><circle cx="90.1" cy="367.8" r="1.38" fill="#a0001e"/><circle cx="92.2" cy="367.8" r="1.38" fill="#a0001e"/><circle cx="94.3" cy="367.2" r="1.38" fill="#a0001e"/><circle cx="96.5" cy="366.6" r="1.38" fill="#a0001e"/><circle cx="85.4" cy="364.2" r="1.38" fill="#a0001e"/><circle cx="88.3" cy="364.8" r="1.38" fill="#a0001e"/><circle cx="91.2" cy="365.4" r="1.38" fill="#a0001e"/><circle cx="94.0" cy="364.8" r="1.38" fill="#a0001e"/><circle cx="96.9" cy="364.2" r="1.38" fill="#a0001e"/><circle cx="85.1" cy="360.9" r="1.38" fill="#a0001e"/><circle cx="87.1" cy="361.5" r="1.38" fill="#a0001e"/><circle cx="89.1" cy="362.1" r="1.38" fill="#a0001e"/><circle cx="91.1" cy="362.7" r="1.38" fill="#a0001e"/><circle cx="93.1" cy="362.1" r="1.38" fill="#a0001e"/><circle cx="95.1" cy="361.5" r="1.38" fill="#a0001e"/><circle cx="97.1" cy="360.9" r="1.38" fill="#a0001e"/><circle cx="85.6" cy="358.8" r="1.38" fill="#a0001e"/><circle cx="88.4" cy="359.4" r="1.38" fill="#a0001e"/><circle cx="91.2" cy="360.0" r="1.38" fill="#a0001e"/><circle cx="93.9" cy="359.4" r="1.38" fill="#a0001e"/><circle cx="96.7" cy="358.8" r="1.38" fill="#a0001e"/><circle cx="87.1" cy="378.3" r="1.38" fill="#a0001e"/><circle cx="89.7" cy="378.9" r="1.38" fill="#a0001e"/><circle cx="92.3" cy="378.9" r="1.38" fill="#a0001e"/><circle cx="94.9" cy="378.3" r="1.38" fill="#a0001e"/><circle cx="85.3" cy="375.0" r="1.38" fill="#a0001e"/><circle cx="87.6" cy="375.6" r="1.38" fill="#a0001e"/><circle cx="89.9" cy="376.2" r="1.38" fill="#a0001e"/><circle cx="92.1" cy="376.2" r="1.38" fill="#a0001e"/><circle cx="94.4" cy="375.6" r="1.38" fill="#a0001e"/><circle cx="96.7" cy="375.0" r="1.38" fill="#a0001e"/><circle cx="85.6" cy="372.6" r="1.38" fill="#a0001e"/><circle cx="88.3" cy="373.2" r="1.38" fill="#a0001e"/><circle cx="91.0" cy="373.8" r="1.38" fill="#a0001e"/><circle cx="93.7" cy="373.2" r="1.38" fill="#a0001e"/><circle cx="96.4" cy="372.6" r="1.38" fill="#a0001e"/><circle cx="111.5" cy="270.8" r="1.38" fill="#a0001e"/><circle cx="110.1" cy="275.7" r="1.38" fill="#a0001e"/><circle cx="113.0" cy="276.9" r="1.38" fill="#a0001e"/><circle cx="111.5" cy="282.5" r="1.38" fill="#a0001e"/><circle cx="110.1" cy="293.4" r="1.38" fill="#a0001e"/><circle cx="113.0" cy="296.2" r="1.38" fill="#a0001e"/><circle cx="111.5" cy="303.5" r="1.38" fill="#a0001e"/><circle cx="111.5" cy="308.0" r="1.38" fill="#a0001e"/><circle cx="111.6" cy="311.7" r="1.38" fill="#a0001e"/><circle cx="108.6" cy="326.2" r="1.38" fill="#a0001e"/><circle cx="111.6" cy="329.1" r="1.38" fill="#a0001e"/><circle cx="114.7" cy="327.4" r="1.38" fill="#a0001e"/><circle cx="108.6" cy="332.8" r="1.38" fill="#a0001e"/><circle cx="114.7" cy="332.8" r="1.38" fill="#a0001e"/><circle cx="111.6" cy="335.4" r="1.38" fill="#a0001e"/><circle cx="110.0" cy="346.9" r="1.38" fill="#a0001e"/><circle cx="112.6" cy="346.1" r="1.38" fill="#a0001e"/><circle cx="111.8" cy="351.3" r="1.38" fill="#a0001e"/><circle cx="111.8" cy="355.5" r="1.38" fill="#a0001e"/><circle cx="112.8" cy="379.7" r="1.38" fill="#a0001e"/><circle cx="110.0" cy="385.2" r="1.38" fill="#a0001e"/><circle cx="113.1" cy="384.6" r="1.38" fill="#a0001e"/><circle cx="107.4" cy="387.0" r="1.38" fill="#a0001e"/><circle cx="110.3" cy="388.7" r="1.38" fill="#a0001e"/><circle cx="113.5" cy="388.3" r="1.38" fill="#a0001e"/><circle cx="116.7" cy="387.5" r="1.38" fill="#a0001e"/><circle cx="112.8" cy="391.7" r="1.38" fill="#a0001e"/><circle cx="110.3" cy="394.3" r="1.38" fill="#a0001e"/><circle cx="132.0" cy="345.3" r="1.38" fill="#a0001e"/><circle cx="130.7" cy="350.4" r="1.38" fill="#a0001e"/><circle cx="133.8" cy="349.6" r="1.38" fill="#a0001e"/><circle cx="132.0" cy="356.0" r="1.38" fill="#a0001e"/><circle cx="129.4" cy="359.4" r="1.38" fill="#a0001e"/><circle cx="133.8" cy="358.7" r="1.38" fill="#a0001e"/><circle cx="130.7" cy="360.7" r="1.38" fill="#a0001e"/><circle cx="133.8" cy="363.8" r="1.38" fill="#a0001e"/><circle cx="132.0" cy="366.7" r="1.38" fill="#a0001e"/><circle cx="128.0" cy="367.8" r="1.38" fill="#a0001e"/><circle cx="136.4" cy="368.7" r="1.38" fill="#a0001e"/><circle cx="130.7" cy="370.5" r="1.38" fill="#a0001e"/><circle cx="133.5" cy="370.5" r="1.38" fill="#a0001e"/><circle cx="130.6" cy="393.9" r="1.38" fill="#a0001e"/><circle cx="133.4" cy="393.9" r="1.38" fill="#a0001e"/><circle cx="127.1" cy="390.1" r="1.38" fill="#a0001e"/><circle cx="129.1" cy="390.7" r="1.38" fill="#a0001e"/><circle cx="131.0" cy="391.3" r="1.38" fill="#a0001e"/><circle cx="133.0" cy="391.3" r="1.38" fill="#a0001e"/><circle cx="134.9" cy="390.7" r="1.38" fill="#a0001e"/><circle cx="136.9" cy="390.1" r="1.38" fill="#a0001e"/><circle cx="126.9" cy="387.8" r="1.38" fill="#a0001e"/><circle cx="129.5" cy="388.4" r="1.38" fill="#a0001e"/><circle cx="132.0" cy="389.0" r="1.38" fill="#a0001e"/><circle cx="134.5" cy="388.4" r="1.38" fill="#a0001e"/><circle cx="137.1" cy="387.8" r="1.38" fill="#a0001e"/><circle cx="126.4" cy="384.9" r="1.38" fill="#a0001e"/><circle cx="128.7" cy="385.5" r="1.38" fill="#a0001e"/><circle cx="130.9" cy="386.1" r="1.38" fill="#a0001e"/><circle cx="133.1" cy="386.1" r="1.38" fill="#a0001e"/><circle cx="135.3" cy="385.5" r="1.38" fill="#a0001e"/><circle cx="137.6" cy="384.9" r="1.38" fill="#a0001e"/><circle cx="126.1" cy="382.3" r="1.38" fill="#a0001e"/><circle cx="128.5" cy="382.9" r="1.38" fill="#a0001e"/><circle cx="130.8" cy="383.5" r="1.38" fill="#a0001e"/><circle cx="133.2" cy="383.5" r="1.38" fill="#a0001e"/><circle cx="135.5" cy="382.9" r="1.38" fill="#a0001e"/><circle cx="137.9" cy="382.3" r="1.38" fill="#a0001e"/><circle cx="126.1" cy="379.4" r="1.38" fill="#a0001e"/><circle cx="128.1" cy="380.0" r="1.38" fill="#a0001e"/><circle cx="130.0" cy="380.6" r="1.38" fill="#a0001e"/><circle cx="132.0" cy="381.2" r="1.38" fill="#a0001e"/><circle cx="134.0" cy="380.6" r="1.38" fill="#a0001e"/><circle cx="135.9" cy="380.0" r="1.38" fill="#a0001e"/><circle cx="137.9" cy="379.4" r="1.38" fill="#a0001e"/><circle cx="126.1" cy="377.1" r="1.38" fill="#a0001e"/><circle cx="128.5" cy="377.7" r="1.38" fill="#a0001e"/><circle cx="130.8" cy="378.3" r="1.38" fill="#a0001e"/><circle cx="133.2" cy="378.3" r="1.38" fill="#a0001e"/><circle cx="135.5" cy="377.7" r="1.38" fill="#a0001e"/><circle cx="137.9" cy="377.1" r="1.38" fill="#a0001e"/><circle cx="126.1" cy="374.2" r="1.38" fill="#a0001e"/><circle cx="128.1" cy="374.8" r="1.38" fill="#a0001e"/><circle cx="130.0" cy="375.4" r="1.38" fill="#a0001e"/><circle cx="132.0" cy="376.0" r="1.38" fill="#a0001e"/><circle cx="134.0" cy="375.4" r="1.38" fill="#a0001e"/><circle cx="135.9" cy="374.8" r="1.38" fill="#a0001e"/><circle cx="137.9" cy="374.2" r="1.38" fill="#a0001e"/><circle cx="126.6" cy="372.2" r="1.38" fill="#a0001e"/><circle cx="129.3" cy="372.8" r="1.38" fill="#a0001e"/><circle cx="132.0" cy="373.4" r="1.38" fill="#a0001e"/><circle cx="134.7" cy="372.8" r="1.38" fill="#a0001e"/><circle cx="137.4" cy="372.2" r="1.38" fill="#a0001e"/><circle cx="152.6" cy="287.6" r="1.38" fill="#a0001e"/><circle cx="152.5" cy="350.7" r="1.38" fill="#a0001e"/><circle cx="152.5" cy="357.4" r="1.38" fill="#a0001e"/><circle cx="152.5" cy="371.8" r="1.38" fill="#a0001e"/><circle cx="152.5" cy="374.9" r="1.38" fill="#a0001e"/><circle cx="147.0" cy="376.7" r="1.38" fill="#a0001e"/><circle cx="149.6" cy="377.0" r="1.38" fill="#a0001e"/><circle cx="151.7" cy="376.8" r="1.38" fill="#a0001e"/><circle cx="155.1" cy="376.8" r="1.38" fill="#a0001e"/><circle cx="158.0" cy="375.8" r="1.38" fill="#a0001e"/><circle cx="153.4" cy="378.9" r="1.38" fill="#a0001e"/><circle cx="151.0" cy="381.8" r="1.38" fill="#a0001e"/><circle cx="152.5" cy="384.4" r="1.38" fill="#a0001e"/><circle cx="146.5" cy="385.8" r="1.38" fill="#a0001e"/><circle cx="158.6" cy="384.9" r="1.38" fill="#a0001e"/><circle cx="148.9" cy="387.6" r="1.38" fill="#a0001e"/><circle cx="151.0" cy="388.0" r="1.38" fill="#a0001e"/><circle cx="153.8" cy="388.0" r="1.38" fill="#a0001e"/><circle cx="155.8" cy="387.5" r="1.38" fill="#a0001e"/><circle cx="146.5" cy="391.8" r="1.38" fill="#a0001e"/><circle cx="148.6" cy="392.3" r="1.38" fill="#a0001e"/><circle cx="151.0" cy="393.0" r="1.38" fill="#a0001e"/><circle cx="152.5" cy="393.5" r="1.38" fill="#a0001e"/><circle cx="154.4" cy="393.0" r="1.38" fill="#a0001e"/><circle cx="156.5" cy="392.3" r="1.38" fill="#a0001e"/><circle cx="158.6" cy="391.8" r="1.38" fill="#a0001e"/><circle cx="150.3" cy="394.3" r="1.38" fill="#a0001e"/><circle cx="152.6" cy="395.0" r="1.38" fill="#a0001e"/><circle cx="172.9" cy="281.5" r="1.38" fill="#a0001e"/><circle cx="171.6" cy="321.0" r="1.38" fill="#a0001e"/><circle cx="174.5" cy="323.4" r="1.38" fill="#a0001e"/><circle cx="174.5" cy="332.7" r="1.38" fill="#a0001e"/><circle cx="170.0" cy="334.4" r="1.38" fill="#a0001e"/><circle cx="171.6" cy="335.5" r="1.38" fill="#a0001e"/><circle cx="174.5" cy="338.2" r="1.38" fill="#a0001e"/><circle cx="174.5" cy="338.7" r="1.38" fill="#a0001e"/><circle cx="172.2" cy="347.0" r="1.38" fill="#a0001e"/><circle cx="174.5" cy="345.6" r="1.38" fill="#a0001e"/><circle cx="173.1" cy="351.1" r="1.38" fill="#a0001e"/><circle cx="167.6" cy="352.5" r="1.38" fill="#a0001e"/><circle cx="170.4" cy="353.2" r="1.38" fill="#a0001e"/><circle cx="175.9" cy="354.3" r="1.38" fill="#a0001e"/><circle cx="178.7" cy="352.9" r="1.38" fill="#a0001e"/><circle cx="173.1" cy="355.7" r="1.38" fill="#a0001e"/><circle cx="173.1" cy="359.4" r="1.38" fill="#a0001e"/><circle cx="173.8" cy="361.5" r="1.38" fill="#a0001e"/><circle cx="169.7" cy="363.6" r="1.38" fill="#a0001e"/><circle cx="177.3" cy="364.3" r="1.38" fill="#a0001e"/><circle cx="171.1" cy="366.5" r="1.38" fill="#a0001e"/><circle cx="175.2" cy="367.1" r="1.38" fill="#a0001e"/><circle cx="179.1" cy="367.7" r="1.38" fill="#a0001e"/><circle cx="166.9" cy="386.0" r="1.38" fill="#a0001e"/><circle cx="178.7" cy="386.4" r="1.38" fill="#a0001e"/><circle cx="168.6" cy="382.8" r="1.38" fill="#a0001e"/><circle cx="170.9" cy="383.4" r="1.38" fill="#a0001e"/><circle cx="173.2" cy="384.0" r="1.38" fill="#a0001e"/><circle cx="175.6" cy="383.4" r="1.38" fill="#a0001e"/><circle cx="177.9" cy="382.8" r="1.38" fill="#a0001e"/><circle cx="167.5" cy="379.6" r="1.38" fill="#a0001e"/><circle cx="169.7" cy="380.2" r="1.38" fill="#a0001e"/><circle cx="172.0" cy="380.8" r="1.38" fill="#a0001e"/><circle cx="174.3" cy="380.8" r="1.38" fill="#a0001e"/><circle cx="176.6" cy="380.2" r="1.38" fill="#a0001e"/><circle cx="178.8" cy="379.6" r="1.38" fill="#a0001e"/><circle cx="167.1" cy="376.7" r="1.38" fill="#a0001e"/><circle cx="169.5" cy="377.3" r="1.38" fill="#a0001e"/><circle cx="171.9" cy="377.9" r="1.38" fill="#a0001e"/><circle cx="174.4" cy="377.9" r="1.38" fill="#a0001e"/><circle cx="176.8" cy="377.3" r="1.38" fill="#a0001e"/><circle cx="179.2" cy="376.7" r="1.38" fill="#a0001e"/><circle cx="167.1" cy="373.5" r="1.38" fill="#a0001e"/><circle cx="169.1" cy="374.1" r="1.38" fill="#a0001e"/><circle cx="171.1" cy="374.7" r="1.38" fill="#a0001e"/><circle cx="173.2" cy="375.3" r="1.38" fill="#a0001e"/><circle cx="175.2" cy="374.7" r="1.38" fill="#a0001e"/><circle cx="177.2" cy="374.1" r="1.38" fill="#a0001e"/><circle cx="179.2" cy="373.5" r="1.38" fill="#a0001e"/><circle cx="167.3" cy="370.9" r="1.38" fill="#a0001e"/><circle cx="169.7" cy="371.5" r="1.38" fill="#a0001e"/><circle cx="172.0" cy="372.1" r="1.38" fill="#a0001e"/><circle cx="174.4" cy="372.1" r="1.38" fill="#a0001e"/><circle cx="176.7" cy="371.5" r="1.38" fill="#a0001e"/><circle cx="179.1" cy="370.9" r="1.38" fill="#a0001e"/><circle cx="167.6" cy="368.0" r="1.38" fill="#a0001e"/><circle cx="169.9" cy="368.6" r="1.38" fill="#a0001e"/><circle cx="172.1" cy="369.2" r="1.38" fill="#a0001e"/><circle cx="174.4" cy="369.2" r="1.38" fill="#a0001e"/><circle cx="176.6" cy="368.6" r="1.38" fill="#a0001e"/><circle cx="178.9" cy="368.0" r="1.38" fill="#a0001e"/><circle cx="171.6" cy="392.9" r="1.38" fill="#a0001e"/><circle cx="174.9" cy="392.9" r="1.38" fill="#a0001e"/><circle cx="169.0" cy="389.6" r="1.38" fill="#a0001e"/><circle cx="171.1" cy="390.2" r="1.38" fill="#a0001e"/><circle cx="173.2" cy="390.8" r="1.38" fill="#a0001e"/><circle cx="175.4" cy="390.2" r="1.38" fill="#a0001e"/><circle cx="177.5" cy="389.6" r="1.38" fill="#a0001e"/><circle cx="169.1" cy="387.5" r="1.38" fill="#a0001e"/><circle cx="172.0" cy="388.1" r="1.38" fill="#a0001e"/><circle cx="175.0" cy="388.1" r="1.38" fill="#a0001e"/><circle cx="177.9" cy="387.5" r="1.38" fill="#a0001e"/><circle cx="193.6" cy="348.1" r="1.38" fill="#a0001e"/><circle cx="195.2" cy="358.7" r="1.38" fill="#a0001e"/><circle cx="190.8" cy="360.9" r="1.38" fill="#a0001e"/><circle cx="192.4" cy="363.9" r="1.38" fill="#a0001e"/><circle cx="195.2" cy="366.4" r="1.38" fill="#a0001e"/><circle cx="193.6" cy="370.0" r="1.38" fill="#a0001e"/><circle cx="193.6" cy="375.3" r="1.38" fill="#a0001e"/><circle cx="190.9" cy="377.1" r="1.38" fill="#a0001e"/><circle cx="196.3" cy="377.4" r="1.38" fill="#a0001e"/><circle cx="189.4" cy="381.0" r="1.38" fill="#a0001e"/><circle cx="192.1" cy="381.9" r="1.38" fill="#a0001e"/><circle cx="195.1" cy="382.7" r="1.38" fill="#a0001e"/><circle cx="197.8" cy="381.3" r="1.38" fill="#a0001e"/><circle cx="187.6" cy="385.5" r="1.38" fill="#a0001e"/><circle cx="199.3" cy="386.7" r="1.38" fill="#a0001e"/><circle cx="191.2" cy="387.3" r="1.38" fill="#a0001e"/><circle cx="193.6" cy="388.2" r="1.38" fill="#a0001e"/><circle cx="196.3" cy="388.6" r="1.38" fill="#a0001e"/><circle cx="188.2" cy="389.7" r="1.38" fill="#a0001e"/><circle cx="190.0" cy="390.6" r="1.38" fill="#a0001e"/><circle cx="193.0" cy="389.7" r="1.38" fill="#a0001e"/><circle cx="199.0" cy="390.6" r="1.38" fill="#a0001e"/><circle cx="191.2" cy="391.5" r="1.38" fill="#a0001e"/><circle cx="196.6" cy="392.7" r="1.38" fill="#a0001e"/><circle cx="193.6" cy="393.0" r="1.38" fill="#a0001e"/><circle cx="214.0" cy="319.8" r="1.38" fill="#a0001e"/><circle cx="214.0" cy="325.9" r="1.38" fill="#a0001e"/><circle cx="214.0" cy="334.6" r="1.38" fill="#a0001e"/><circle cx="215.8" cy="336.9" r="1.38" fill="#a0001e"/><circle cx="212.7" cy="338.6" r="1.38" fill="#a0001e"/><circle cx="214.0" cy="349.3" r="1.38" fill="#a0001e"/><circle cx="214.3" cy="356.2" r="1.38" fill="#a0001e"/><circle cx="210.0" cy="359.8" r="1.38" fill="#a0001e"/><circle cx="212.8" cy="360.8" r="1.38" fill="#a0001e"/><circle cx="217.4" cy="360.8" r="1.38" fill="#a0001e"/><circle cx="219.9" cy="360.4" r="1.38" fill="#a0001e"/><circle cx="210.0" cy="363.6" r="1.38" fill="#a0001e"/><circle cx="212.4" cy="365.8" r="1.38" fill="#a0001e"/><circle cx="216.8" cy="363.6" r="1.38" fill="#a0001e"/><circle cx="218.7" cy="362.4" r="1.38" fill="#a0001e"/><circle cx="214.3" cy="368.3" r="1.38" fill="#a0001e"/><circle cx="208.1" cy="370.1" r="1.38" fill="#a0001e"/><circle cx="219.9" cy="368.9" r="1.38" fill="#a0001e"/><circle cx="213.1" cy="393.1" r="1.38" fill="#a0001e"/><circle cx="215.4" cy="393.1" r="1.38" fill="#a0001e"/><circle cx="209.6" cy="389.1" r="1.38" fill="#a0001e"/><circle cx="211.4" cy="389.7" r="1.38" fill="#a0001e"/><circle cx="213.3" cy="390.3" r="1.38" fill="#a0001e"/><circle cx="215.2" cy="390.3" r="1.38" fill="#a0001e"/><circle cx="217.1" cy="389.7" r="1.38" fill="#a0001e"/><circle cx="218.9" cy="389.1" r="1.38" fill="#a0001e"/><circle cx="208.8" cy="386.6" r="1.38" fill="#a0001e"/><circle cx="211.5" cy="387.2" r="1.38" fill="#a0001e"/><circle cx="214.2" cy="387.8" r="1.38" fill="#a0001e"/><circle cx="217.0" cy="387.2" r="1.38" fill="#a0001e"/><circle cx="219.7" cy="386.6" r="1.38" fill="#a0001e"/><circle cx="208.3" cy="383.2" r="1.38" fill="#a0001e"/><circle cx="210.3" cy="383.8" r="1.38" fill="#a0001e"/><circle cx="212.3" cy="384.4" r="1.38" fill="#a0001e"/><circle cx="214.2" cy="385.0" r="1.38" fill="#a0001e"/><circle cx="216.2" cy="384.4" r="1.38" fill="#a0001e"/><circle cx="218.2" cy="383.8" r="1.38" fill="#a0001e"/><circle cx="220.2" cy="383.2" r="1.38" fill="#a0001e"/><circle cx="208.1" cy="380.7" r="1.38" fill="#a0001e"/><circle cx="210.6" cy="381.3" r="1.38" fill="#a0001e"/><circle cx="213.0" cy="381.9" r="1.38" fill="#a0001e"/><circle cx="215.5" cy="381.9" r="1.38" fill="#a0001e"/><circle cx="217.9" cy="381.3" r="1.38" fill="#a0001e"/><circle cx="220.4" cy="380.7" r="1.38" fill="#a0001e"/><circle cx="208.2" cy="377.6" r="1.38" fill="#a0001e"/><circle cx="210.2" cy="378.2" r="1.38" fill="#a0001e"/><circle cx="212.2" cy="378.8" r="1.38" fill="#a0001e"/><circle cx="214.2" cy="379.4" r="1.38" fill="#a0001e"/><circle cx="216.3" cy="378.8" r="1.38" fill="#a0001e"/><circle cx="218.3" cy="378.2" r="1.38" fill="#a0001e"/><circle cx="220.3" cy="377.6" r="1.38" fill="#a0001e"/><circle cx="208.6" cy="375.4" r="1.38" fill="#a0001e"/><circle cx="211.4" cy="376.0" r="1.38" fill="#a0001e"/><circle cx="214.2" cy="376.6" r="1.38" fill="#a0001e"/><circle cx="217.1" cy="376.0" r="1.38" fill="#a0001e"/><circle cx="219.9" cy="375.4" r="1.38" fill="#a0001e"/><circle cx="208.7" cy="372.3" r="1.38" fill="#a0001e"/><circle cx="210.9" cy="372.9" r="1.38" fill="#a0001e"/><circle cx="213.2" cy="373.5" r="1.38" fill="#a0001e"/><circle cx="215.4" cy="373.5" r="1.38" fill="#a0001e"/><circle cx="217.6" cy="372.9" r="1.38" fill="#a0001e"/><circle cx="219.8" cy="372.3" r="1.38" fill="#a0001e"/><circle cx="209.1" cy="369.8" r="1.38" fill="#a0001e"/><circle cx="211.7" cy="370.4" r="1.38" fill="#a0001e"/><circle cx="214.2" cy="371.0" r="1.38" fill="#a0001e"/><circle cx="216.8" cy="370.4" r="1.38" fill="#a0001e"/><circle cx="219.4" cy="369.8" r="1.38" fill="#a0001e"/><circle cx="234.6" cy="342.4" r="1.38" fill="#a0001e"/><circle cx="234.6" cy="346.7" r="1.38" fill="#a0001e"/><circle cx="236.0" cy="362.1" r="1.38" fill="#a0001e"/><circle cx="233.0" cy="364.3" r="1.38" fill="#a0001e"/><circle cx="231.8" cy="375.0" r="1.38" fill="#a0001e"/><circle cx="234.9" cy="375.0" r="1.38" fill="#a0001e"/><circle cx="237.6" cy="374.4" r="1.38" fill="#a0001e"/><circle cx="234.6" cy="379.7" r="1.38" fill="#a0001e"/><circle cx="230.3" cy="382.1" r="1.38" fill="#a0001e"/><circle cx="238.7" cy="382.1" r="1.38" fill="#a0001e"/><circle cx="229.1" cy="385.7" r="1.38" fill="#a0001e"/><circle cx="233.2" cy="385.0" r="1.38" fill="#a0001e"/><circle cx="236.0" cy="385.2" r="1.38" fill="#a0001e"/><circle cx="240.1" cy="385.7" r="1.38" fill="#a0001e"/><circle cx="230.9" cy="389.0" r="1.38" fill="#a0001e"/><circle cx="233.2" cy="389.4" r="1.38" fill="#a0001e"/><circle cx="236.9" cy="389.0" r="1.38" fill="#a0001e"/><circle cx="239.2" cy="389.4" r="1.38" fill="#a0001e"/><circle cx="230.0" cy="390.2" r="1.38" fill="#a0001e"/><circle cx="232.3" cy="391.2" r="1.38" fill="#a0001e"/><circle cx="235.0" cy="390.4" r="1.38" fill="#a0001e"/><circle cx="237.8" cy="390.8" r="1.38" fill="#a0001e"/><circle cx="240.6" cy="391.6" r="1.38" fill="#a0001e"/><circle cx="231.4" cy="393.0" r="1.38" fill="#a0001e"/><circle cx="234.1" cy="393.5" r="1.38" fill="#a0001e"/><circle cx="237.4" cy="393.0" r="1.38" fill="#a0001e"/><circle cx="240.1" cy="392.6" r="1.38" fill="#a0001e"/><circle cx="234.6" cy="394.9" r="1.38" fill="#a0001e"/><path d="M36.5 250.3 V395.2 M33.1 395.2 H248.6" stroke="#000" stroke-width="1.3" fill="none"/><path d="M33.1 363.2 H36.5" stroke="#000" stroke-width="1.1"/><path d="M33.1 331.2 H36.5" stroke="#000" stroke-width="1.1"/><path d="M33.1 299.2 H36.5" stroke="#000" stroke-width="1.1"/><path d="M33.1 267.2 H36.5" stroke="#000" stroke-width="1.1"/><text x="30.1" y="397.4" text-anchor="end" font-family='"Liberation Sans", sans-serif' font-size="8.8" fill="#222">0</text><text x="30.1" y="365.4" text-anchor="end" font-family='"Liberation Sans", sans-serif' font-size="8.8" fill="#222" textLength="8.9" lengthAdjust="spacingAndGlyphs">20</text><text x="30.1" y="333.4" text-anchor="end" font-family='"Liberation Sans", sans-serif' font-size="8.8" fill="#222" textLength="8.9" lengthAdjust="spacingAndGlyphs">40</text><text x="30.1" y="301.4" text-anchor="end" font-family='"Liberation Sans", sans-serif' font-size="8.8" fill="#222" textLength="8.9" lengthAdjust="spacingAndGlyphs">60</text><text x="30.1" y="269.4" text-anchor="end" font-family='"Liberation Sans", sans-serif' font-size="8.8" fill="#222" textLength="8.9" lengthAdjust="spacingAndGlyphs">80</text><path d="M49.8 395.2 V398.2" stroke="#333" stroke-width="0.9"/><text x="49.8" y="408.6" text-anchor="middle" font-family='"Liberation Sans", sans-serif' font-style="italic" font-size="8.6" fill="#111" stroke="#111" stroke-width="0.2">WT</text><path d="M70.3 395.2 V398.2" stroke="#333" stroke-width="0.9"/><text x="70.3" y="408.6" text-anchor="middle" font-family='"Liberation Sans", sans-serif' font-style="italic" font-size="8.6" fill="#111" stroke="#111" stroke-width="0.2">Mut</text><path d="M90.8 395.2 V398.2" stroke="#333" stroke-width="0.9"/><text x="90.8" y="408.6" text-anchor="middle" font-family='"Liberation Sans", sans-serif' font-style="italic" font-size="8.6" fill="#111" stroke="#111" stroke-width="0.2">WT</text><path d="M111.3 395.2 V398.2" stroke="#333" stroke-width="0.9"/><text x="111.3" y="408.6" text-anchor="middle" font-family='"Liberation Sans", sans-serif' font-style="italic" font-size="8.6" fill="#111" stroke="#111" stroke-width="0.2">Mut</text><path d="M131.8 395.2 V398.2" stroke="#333" stroke-width="0.9"/><text x="131.8" y="408.6" text-anchor="middle" font-family='"Liberation Sans", sans-serif' font-style="italic" font-size="8.6" fill="#111" stroke="#111" stroke-width="0.2">WT</text><path d="M152.3 395.2 V398.2" stroke="#333" stroke-width="0.9"/><text x="152.3" y="408.6" text-anchor="middle" font-family='"Liberation Sans", sans-serif' font-style="italic" font-size="8.6" fill="#111" stroke="#111" stroke-width="0.2">Mut</text><path d="M172.8 395.2 V398.2" stroke="#333" stroke-width="0.9"/><text x="172.8" y="408.6" text-anchor="middle" font-family='"Liberation Sans", sans-serif' font-style="italic" font-size="8.6" fill="#111" stroke="#111" stroke-width="0.2">WT</text><path d="M193.3 395.2 V398.2" stroke="#333" stroke-width="0.9"/><text x="193.3" y="408.6" text-anchor="middle" font-family='"Liberation Sans", sans-serif' font-style="italic" font-size="8.6" fill="#111" stroke="#111" stroke-width="0.2">Mut</text><path d="M213.8 395.2 V398.2" stroke="#333" stroke-width="0.9"/><text x="213.8" y="408.6" text-anchor="middle" font-family='"Liberation Sans", sans-serif' font-style="italic" font-size="8.6" fill="#111" stroke="#111" stroke-width="0.2">WT</text><path d="M234.3 395.2 V398.2" stroke="#333" stroke-width="0.9"/><text x="234.3" y="408.6" text-anchor="middle" font-family='"Liberation Sans", sans-serif' font-style="italic" font-size="8.6" fill="#111" stroke="#111" stroke-width="0.2">Mut</text><path d="M44.5 414.5 H77.1" stroke="#1a1a1a" stroke-width="1.2"/><text x="60.8" y="424.2" text-anchor="middle" font-family='"Liberation Sans", sans-serif' font-size="8.3" fill="#111" stroke="#111" stroke-width="0.15">T Cells</text><path d="M85.5 414.5 H118.1" stroke="#1a1a1a" stroke-width="1.2"/><text x="101.8" y="424.2" text-anchor="middle" font-family='"Liberation Sans", sans-serif' font-size="8.3" fill="#111" stroke="#111" stroke-width="0.15">CD8+</text><path d="M126.6 414.5 H159.2" stroke="#1a1a1a" stroke-width="1.2"/><text x="142.9" y="424.2" text-anchor="middle" font-family='"Liberation Sans", sans-serif' font-size="8.3" fill="#111" stroke="#111" stroke-width="0.15">CD4+</text><path d="M167.6 414.5 H200.2" stroke="#1a1a1a" stroke-width="1.2"/><text x="183.9" y="424.2" text-anchor="middle" font-family='"Liberation Sans", sans-serif' font-size="8.3" fill="#111" stroke="#111" stroke-width="0.15">Tregs</text><path d="M208.6 414.5 H241.2" stroke="#1a1a1a" stroke-width="1.2"/><text x="224.9" y="424.2" text-anchor="middle" font-family='"Liberation Sans", sans-serif' font-size="8.3" fill="#111" stroke="#111" stroke-width="0.15">NK Cells</text><text transform="translate(15.4,322.9) rotate(-90)" text-anchor="middle" font-family='"Liberation Sans", sans-serif' font-size="10" fill="#222" textLength="56.6" lengthAdjust="spacingAndGlyphs">Percent 4-1BB+</text><path d="M43.1 375.3 H56.9" stroke="#000" stroke-width="1.4" fill="none"/><path d="M50.0 371.2 V379.3 M47.0 371.2 H53.0 M47.0 379.3 H53.0" stroke="#000" stroke-width="1.1" fill="none"/><path d="M63.6 374.1 H77.4" stroke="#000" stroke-width="1.4" fill="none"/><path d="M70.5 363.6 V382.6 M67.0 363.6 H74.0 M67.0 382.6 H74.0" stroke="#000" stroke-width="1.1" fill="none"/><path d="M83.9 363.3 H97.9" stroke="#000" stroke-width="1.4" fill="none"/><path d="M90.9 359.8 V369.1 M87.9 359.8 H93.9 M87.9 369.1 H93.9" stroke="#000" stroke-width="1.1" fill="none"/><path d="M104.8 334.5 H118.4" stroke="#000" stroke-width="1.4" fill="none"/><path d="M111.6 316.5 V378.4 M108.3 316.5 H114.9 M108.3 378.4 H114.9" stroke="#000" stroke-width="1.1" fill="none"/><path d="M125.3 382.5 H138.7" stroke="#000" stroke-width="1.4" fill="none"/><path d="M132.0 380.1 V384.8 M129.0 380.1 H135.0 M129.0 384.8 H135.0" stroke="#000" stroke-width="1.1" fill="none"/><path d="M145.8 386.3 H159.2" stroke="#000" stroke-width="1.4" fill="none"/><path d="M152.5 378.4 V391.2 M149.9 378.4 H155.1 M149.9 391.2 H155.1" stroke="#000" stroke-width="1.1" fill="none"/><path d="M166.2 377.8 H180.0" stroke="#000" stroke-width="1.4" fill="none"/><path d="M173.1 373.3 V381.5 M170.1 373.3 H176.1 M170.1 381.5 H176.1" stroke="#000" stroke-width="1.1" fill="none"/><path d="M187.0 385.8 H200.2" stroke="#000" stroke-width="1.4" fill="none"/><path d="M193.6 378.0 V388.0 M190.9 378.0 H196.3 M190.9 388.0 H196.3" stroke="#000" stroke-width="1.1" fill="none"/><path d="M207.5 379.4 H221.1" stroke="#000" stroke-width="1.4" fill="none"/><path d="M214.3 374.5 V383.8 M211.3 374.5 H217.3 M211.3 383.8 H217.3" stroke="#000" stroke-width="1.1" fill="none"/><path d="M227.9 387.3 H241.3" stroke="#000" stroke-width="1.4" fill="none"/><path d="M234.6 382.4 V390.4 M231.6 382.4 H237.6 M231.6 390.4 H237.6" stroke="#000" stroke-width="1.1" fill="none"/><path d="M174.7 31.9 H193.0" stroke="#3c3c3c" stroke-width="1.5"/><polygon points="183.85,26.20 184.30,27.28 185.47,27.37 184.58,28.14 184.85,29.28 183.85,28.66 182.85,29.28 183.12,28.14 182.23,27.37 183.40,27.28" fill="#222"/><path d="M220.0 31.9 H238.5" stroke="#3c3c3c" stroke-width="1.5"/><polygon points="227.40,26.20 227.85,27.28 229.02,27.37 228.13,28.14 228.40,29.28 227.40,28.66 226.40,29.28 226.67,28.14 225.78,27.37 226.95,27.28" fill="#222"/><polygon points="231.10,26.20 231.55,27.28 232.72,27.37 231.83,28.14 232.10,29.28 231.10,28.66 230.10,29.28 230.37,28.14 229.48,27.37 230.65,27.28" fill="#222"/><path d="M314.1 95.1 H331.9" stroke="#3c3c3c" stroke-width="1.5"/><polygon points="317.45,89.40 317.90,90.48 319.07,90.57 318.18,91.34 318.45,92.48 317.45,91.86 316.45,92.48 316.72,91.34 315.83,90.57 317.00,90.48" fill="#222"/><polygon points="321.15,89.40 321.60,90.48 322.77,90.57 321.88,91.34 322.15,92.48 321.15,91.86 320.15,92.48 320.42,91.34 319.53,90.57 320.70,90.48" fill="#222"/><polygon points="324.85,89.40 325.30,90.48 326.47,90.57 325.58,91.34 325.85,92.48 324.85,91.86 323.85,92.48 324.12,91.34 323.23,90.57 324.40,90.48" fill="#222"/><polygon points="328.55,89.40 329.00,90.48 330.17,90.57 329.28,91.34 329.55,92.48 328.55,91.86 327.55,92.48 327.82,91.34 326.93,90.57 328.10,90.48" fill="#222"/><path d="M354.5 95.3 H373.0" stroke="#3c3c3c" stroke-width="1.5"/><polygon points="358.20,89.60 358.65,90.68 359.82,90.77 358.93,91.54 359.20,92.68 358.20,92.06 357.20,92.68 357.47,91.54 356.58,90.77 357.75,90.68" fill="#222"/><polygon points="361.90,89.60 362.35,90.68 363.52,90.77 362.63,91.54 362.90,92.68 361.90,92.06 360.90,92.68 361.17,91.54 360.28,90.77 361.45,90.68" fill="#222"/><polygon points="365.60,89.60 366.05,90.68 367.22,90.77 366.33,91.54 366.60,92.68 365.60,92.06 364.60,92.68 364.87,91.54 363.98,90.77 365.15,90.68" fill="#222"/><polygon points="369.30,89.60 369.75,90.68 370.92,90.77 370.03,91.54 370.30,92.68 369.30,92.06 368.30,92.68 368.57,91.54 367.68,90.77 368.85,90.68" fill="#222"/><path d="M394.2 95.3 H412.4" stroke="#3c3c3c" stroke-width="1.5"/><polygon points="399.60,89.60 400.05,90.68 401.22,90.77 400.33,91.54 400.60,92.68 399.60,92.06 398.60,92.68 398.87,91.54 397.98,90.77 399.15,90.68" fill="#222"/><polygon points="403.30,89.60 403.75,90.68 404.92,90.77 404.03,91.54 404.30,92.68 403.30,92.06 402.30,92.68 402.57,91.54 401.68,90.77 402.85,90.68" fill="#222"/><polygon points="407.00,89.60 407.45,90.68 408.62,90.77 407.73,91.54 408.00,92.68 407.00,92.06 406.00,92.68 406.27,91.54 405.38,90.77 406.55,90.68" fill="#222"/><path d="M435.0 70.5 H453.0" stroke="#3c3c3c" stroke-width="1.5"/><polygon points="444.00,64.80 444.45,65.88 445.62,65.97 444.73,66.74 445.00,67.88 444.00,67.27 443.00,67.88 443.27,66.74 442.38,65.97 443.55,65.88" fill="#222"/><path d="M476.3 30.1 H494.6" stroke="#3c3c3c" stroke-width="1.5"/><polygon points="479.90,24.40 480.35,25.48 481.52,25.57 480.63,26.34 480.90,27.48 479.90,26.87 478.90,27.48 479.17,26.34 478.28,25.57 479.45,25.48" fill="#222"/><polygon points="483.60,24.40 484.05,25.48 485.22,25.57 484.33,26.34 484.60,27.48 483.60,26.87 482.60,27.48 482.87,26.34 481.98,25.57 483.15,25.48" fill="#222"/><polygon points="487.30,24.40 487.75,25.48 488.92,25.57 488.03,26.34 488.30,27.48 487.30,26.87 486.30,27.48 486.57,26.34 485.68,25.57 486.85,25.48" fill="#222"/><polygon points="491.00,24.40 491.45,25.48 492.62,25.57 491.73,26.34 492.00,27.48 491.00,26.87 490.00,27.48 490.27,26.34 489.38,25.57 490.55,25.48" fill="#222"/><path d="M177.1 264.2 H195.0" stroke="#3c3c3c" stroke-width="1.5"/><polygon points="184.20,258.50 184.65,259.58 185.82,259.67 184.93,260.44 185.20,261.58 184.20,260.96 183.20,261.58 183.47,260.44 182.58,259.67 183.75,259.58" fill="#222"/><polygon points="187.90,258.50 188.35,259.58 189.52,259.67 188.63,260.44 188.90,261.58 187.90,260.96 186.90,261.58 187.17,260.44 186.28,259.67 187.45,259.58" fill="#222"/><path d="M218.6 286.3 H236.6" stroke="#3c3c3c" stroke-width="1.5"/><polygon points="225.75,280.60 226.20,281.68 227.37,281.77 226.48,282.54 226.75,283.68 225.75,283.06 224.75,283.68 225.02,282.54 224.13,281.77 225.30,281.68" fill="#222"/><polygon points="229.45,280.60 229.90,281.68 231.07,281.77 230.18,282.54 230.45,283.68 229.45,283.06 228.45,283.68 228.72,282.54 227.83,281.77 229.00,281.68" fill="#222"/></svg></body></html>
